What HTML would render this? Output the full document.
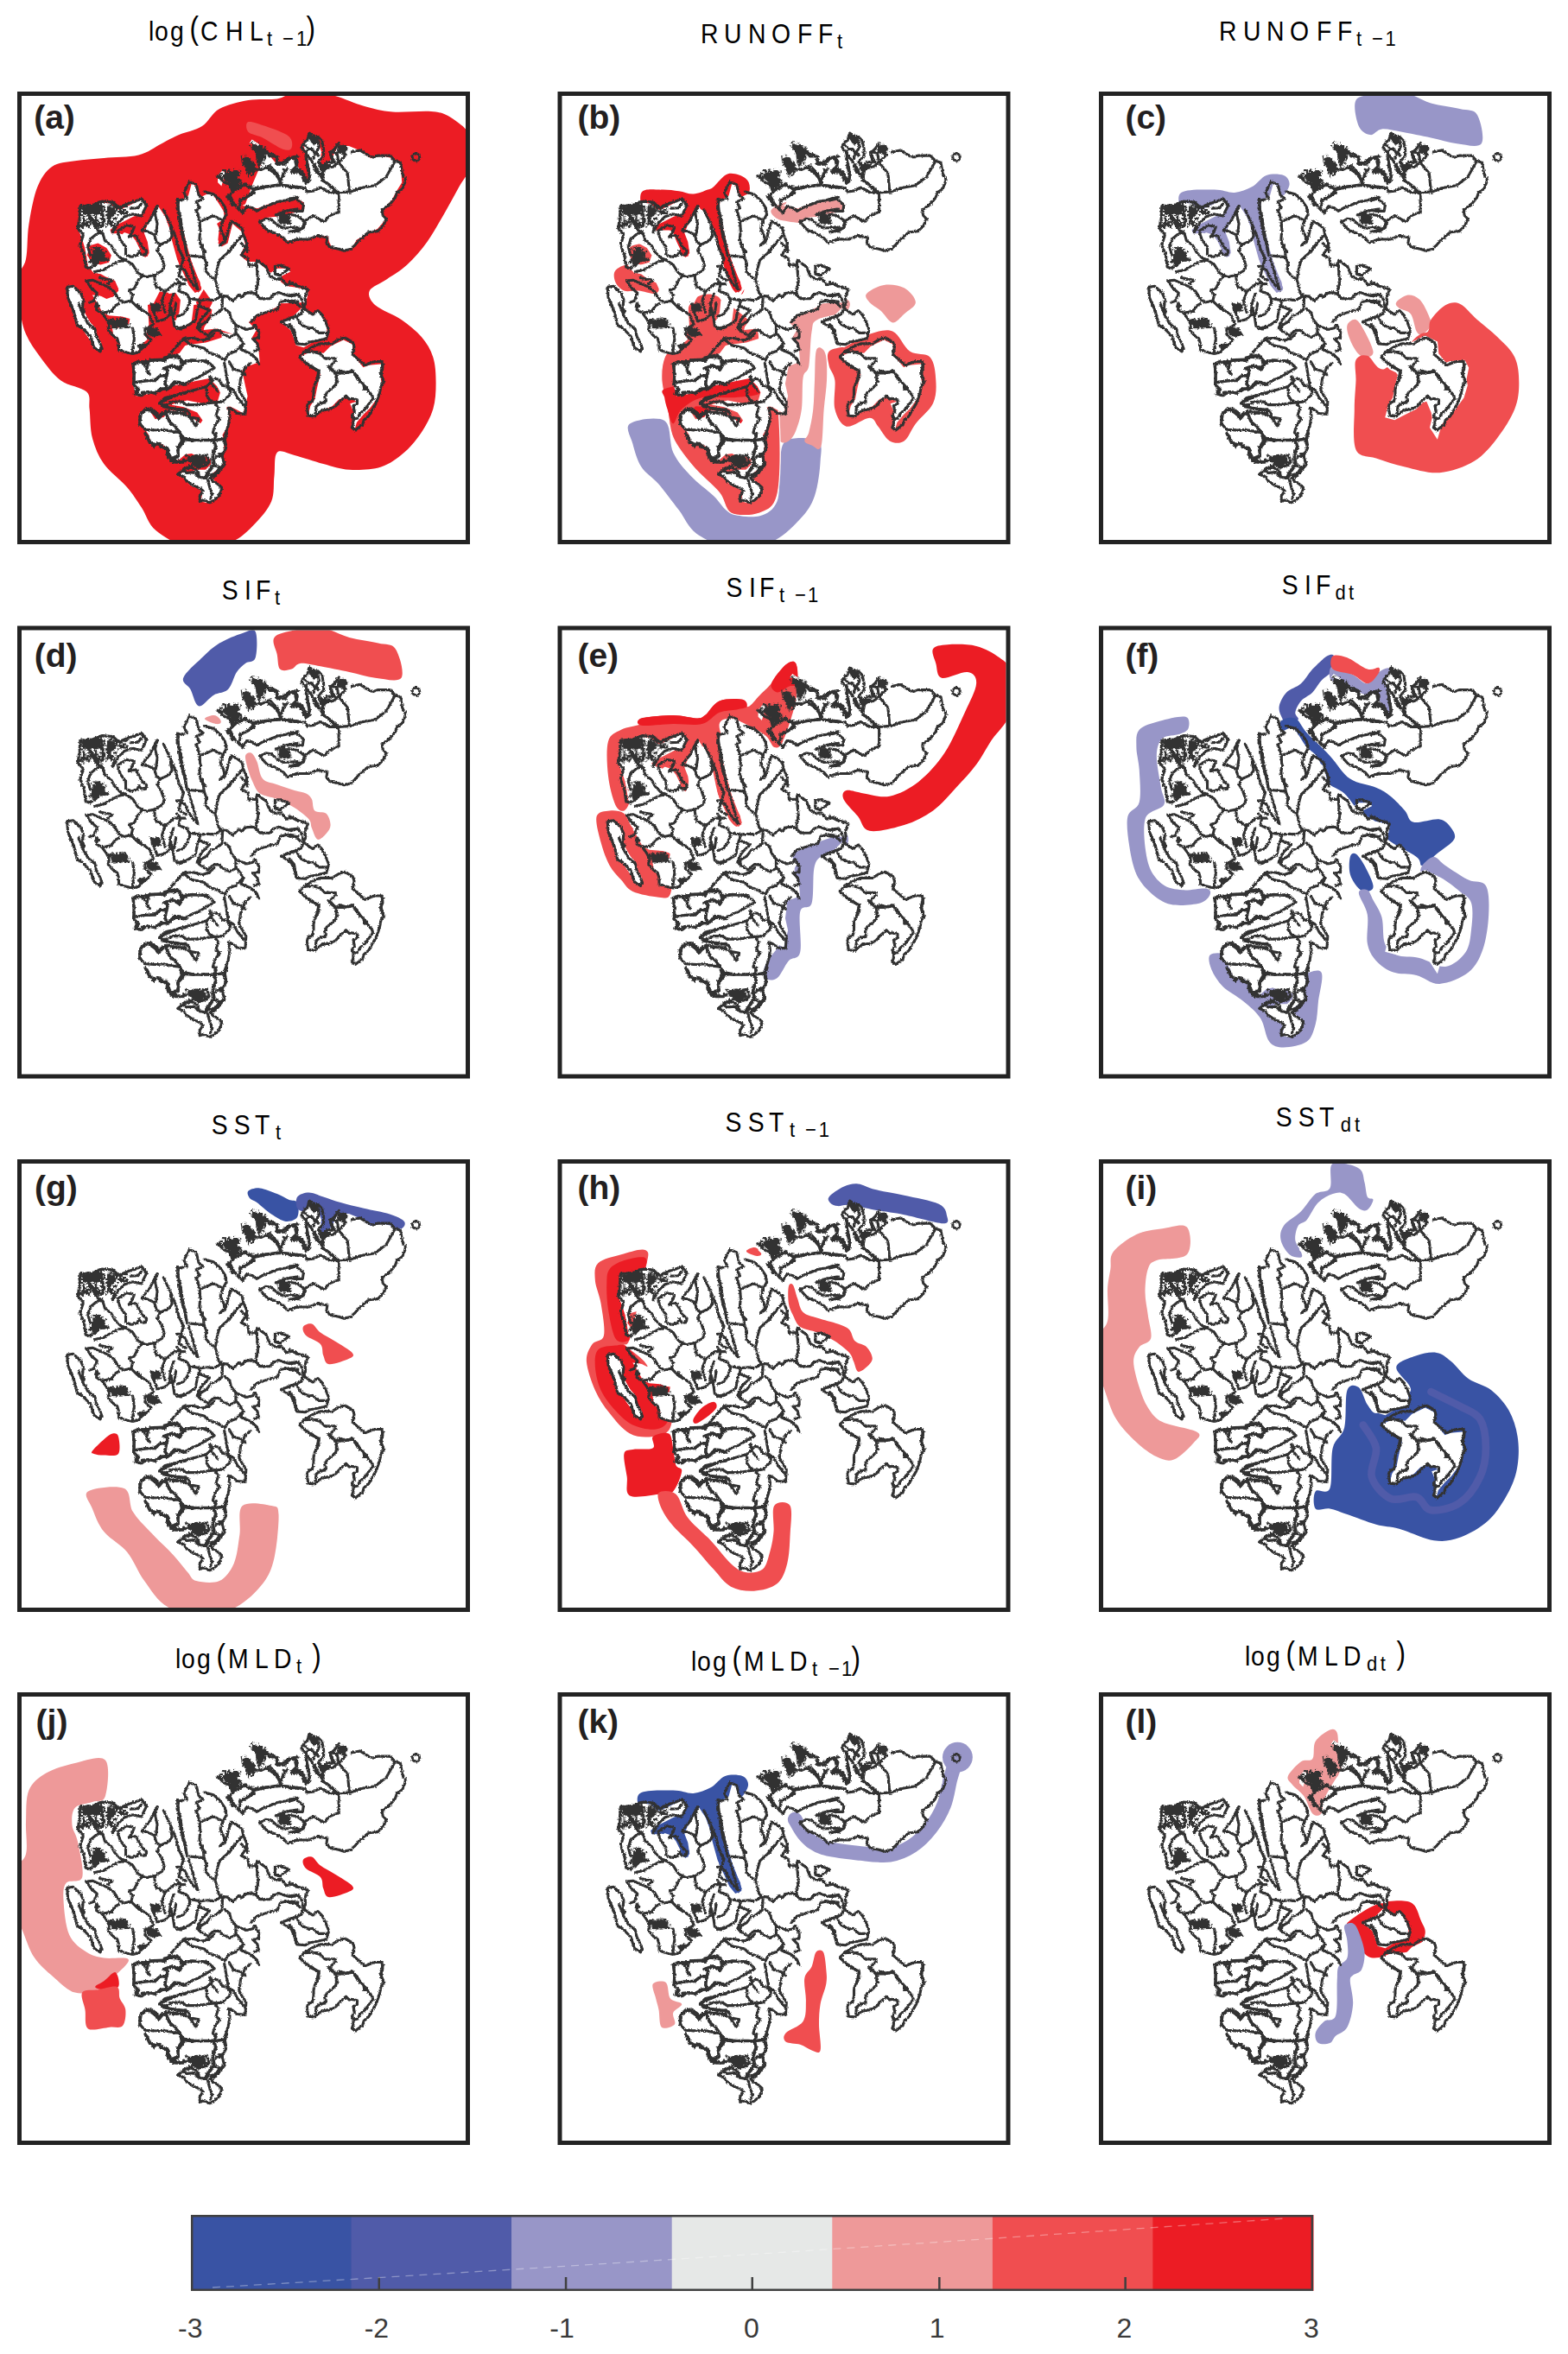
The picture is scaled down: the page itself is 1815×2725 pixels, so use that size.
<!DOCTYPE html>
<html><head><meta charset="utf-8"><style>
html,body{margin:0;padding:0;background:#fff;}
svg{display:block;}
text{font-family:"Liberation Sans",sans-serif;}
</style></head><body>
<svg width="1815" height="2725" viewBox="0 0 1815 2725">
<defs>
<filter id="jag" x="-5%" y="-5%" width="110%" height="110%">
<feTurbulence type="fractalNoise" baseFrequency="0.6" numOctaves="1" seed="3" result="n"/>
<feDisplacementMap in="SourceGraphic" in2="n" scale="3.6" xChannelSelector="R" yChannelSelector="G"/>
</filter>
<mask id="fjm" maskUnits="userSpaceOnUse" x="0" y="0" width="524" height="524"><rect width="524" height="524" fill="#fff"/><g fill="#000"><path d="M107.5 159.9 117.3 152.9 128.6 152.9 137 158.5 142.6 167 148.2 175.4 152.4 183.8 151 190.8 145.4 190.8 141.2 181 137 172.6 131.4 165.6 123 162.8 114.5 164.2 108.9 164.2Z"/><path d="M173.5 131.9 181.9 136.1 187.5 152.9 191.7 171.2 195.9 189.4 204.3 206.2 211.4 220.3 212.8 230.1 205.7 232.9 198.7 224.5 193.1 211.9 187.5 200.6 183.3 185.2 179.1 167 173.5 147.3 169.3 136.1Z"/><path d="M231 152.9 239.4 147.3 249.2 152.9 246.4 164.2 243.6 175.4 236.6 179.6 232.4 175.4 236.6 164.2Z"/><path d="M83.7 178.2 93.5 175.4 103.3 181 108.9 189.4 106.1 197.8 96.3 200.6 86.5 197.8 80.9 189.4Z"/><path d="M80.9 220.3 92.1 217.5 103.3 214.7 113.1 218.9 117.3 228.7 111.7 237.1 103.3 239.9 92.1 234.3 83.7 228.7Z"/><path d="M173.5 234.3 183.3 232.9 188.9 241.3 187.5 255.4 183.3 265.2 176.3 262.4 172.1 251.1Z"/><path d="M151 246.9 162.2 244.1 170.7 251.1 173.5 269.4 170.7 290.4 156.6 293.2 148.2 283.4 152.4 269.4Z"/><path d="M204.3 246.9 215.6 245.5 225.4 252.6 224 262.4 215.6 273.6 205.7 276.4 201.5 268Z"/><path d="M190.3 282 211.4 279.2 236.6 276.4 236.6 284.8 218.4 290.4 197.3 293.2 187.5 296Z"/><path d="M239 100.3 249 71.9 264 58.5 277.4 61.8 282.4 83.6 272.4 107 264 130.3 254 135.4 245.7 123.7 235.6 112Z"/></g></mask>
<g id="landfill" fill="#fff" stroke="none" mask="url(#fjm)"><path d="M88.3 209.8 81.9 202.2 80 190.7 78.1 180.5 74.9 170.3 70.4 158.8 72.3 148.6 71.7 135.8 74.2 133.3 83.2 132 90.8 129.5 98.5 128.8 107.4 129.5 113.8 135.8 118.9 137.1 129.1 132 139.3 126.9 145.7 125.6 149.5 132 145.7 140.9 134.2 144.8 124 149.9 113.8 155 109.9 161.3 121.4 165.2 130.4 157.5 138 162.6 141.8 172.8 143.1 188.1 148.2 192 152.7 186.9 150.8 174.1 146.9 163.9 150.8 153.7 159.7 135.8 163.5 133.3 171.2 144.8 176.3 158.8 178.8 171.6 185.2 194.5 192.9 209.8 203.1 225.1 209.4 232.8 213.3 227.7 208.2 213.6 201.8 197.1 196.7 179.2 191.6 158.8 187.1 138.4 187.8 126.9 198 120.5 201.8 106.5 208.2 110.3 210.7 123.1 218.4 119.3 224.7 116.7 232.4 128.2 238.8 138.4 240.1 148.6 233.7 158.8 232.4 171.6 234.9 179.2 242.6 174.1 245.2 158.8 250 152.4 250 153.7 260.2 162.6 264 177.9 257.7 189.4 266.6 197.1 278.1 197.1 285.7 203.4 293.4 209.8 301 204.7 312.5 204.7 316.3 208.5 306.1 213.6 304.8 220 311.2 225.1 321.4 226.4 332.9 228.9 336.7 232.8 334.2 244 334.3 244 304.8 245.3 301 249.1 288.3 255.5 278.1 259.3 267.9 267 276.8 275.9 271.7 284.8 279.3 297.6 280.6 312.9 266.6 318 260.2 323.1 264 340.9 266.6 352.4 261.6 372.6 255.4 369 246.4 364.5 242 365.4 243.8 369 245.5 377.9 242.9 388.6 237.5 397.6 239.3 404.7 239.3 415.4 235.7 422.6 238.4 427.9 237.5 433.3 230.4 438.6 223.2 444 228.6 451.1 233.9 454.7 235.7 460.1 232.1 469 225.9 473.5 219.6 476.1 212.5 474.4 214.3 464.5 210.7 460.1 200 455.6 192.9 447.6 187.5 441.3 200 440.4 207.1 437.8 217.9 437.8 224.1 431.5 224.1 426.1 217.9 422.6 208.9 422.6 201.8 419 194.6 419.9 187.5 426.1 182.1 427 176.8 420.8 173.2 411.9 164.3 406.5 155.4 408.3 152 397.1 143.1 384.3 141.8 371.6 152 367.7 159.7 379.2 169.9 376.7 175 369 190.3 370.3 203.1 377.9 212 384.3 214.5 380.5 208.2 371.6 192.9 365.2 177.6 362.6 196.7 357.5 215.8 361.3 231.1 361.3 234.9 348.6 231.1 340.9 222.2 332 203.1 335.8 190.3 338.4 177.6 340.9 164.8 346 152 349.9 138 352.4 134.2 339.7 134.2 316.7 139.3 312.9 158.4 311.6 172.4 309.1 187.8 302.7 195.4 292.5 200.5 287.4 209.4 287.4 222.2 283.5 237.5 278.4 250 281 231.1 274.6 215.8 275.9 219.6 256.8 226 244 215.8 228.9 206.9 244 212 256.8 203.1 265.7 192.9 273.3 185.2 275.9 177.6 260.6 177.6 244 175 232.8 164.8 231.5 158.4 244 155.9 251.7 153.3 260.6 155.9 272.1 164.8 278.4 162.2 283.5 152 286.1 146.9 289.9 141.8 297.6 138 302.7 126.5 301.4 117.6 300.1 118.9 292.5 111.2 282.3 109.9 273.3 117.6 273.3 129.1 269.5 130.4 263.1 121.4 260.6 106.1 259.3 98.5 255.5 92.1 244 86.9 235.6 110.1 238 117.3 230.6 113.4 220.7 96.8 211.2Z"/><path d="M232.1 97.6 237.2 91.2 242.3 95 250 92.5 257.7 82.3 260.2 73.3 267.9 77.2 266.6 63.1 271.7 55.5 279.3 60.6 284.4 68.2 293.4 75.9 301 84.8 309.9 82.3 318.9 77.2 322.7 82.3 329.1 95 334.2 106.5 339.3 100.1 338 86.1 331.6 63.1 338 50.4 346.9 56.8 352 69.5 350.8 82.3 353.3 93.7 358.4 84.8 364.8 75.9 371.2 63.1 383.9 63.1 396.7 68.2 409.4 77.2 422.2 74.6 434.9 77.2 443.9 84.8 445.2 105.2 438.8 115.4 433.7 125.6 420.9 138.4 426 148.6 417.1 158.8 406.9 163.9 392.9 171.6 387.8 180.5 377.6 184.3 364.8 181.8 361 174.1 359.7 167.7 346.9 166.4 338 170.3 326.5 171.6 311.2 172.8 307.4 167.7 295.9 163.9 284.4 156.2 280.6 151.1 288.3 146 299.7 144.8 311.2 142.2 326.5 139 332.3 135.8 331.6 128.2 324 123.7 306.1 126.9 289.5 130.7 278.1 135.2 269.1 133.3 260.2 132 252.6 133.3 244.9 115.4 237.2 110.3 232.1 105.2Z"/><path d="M58.4 224.9 64 224.2 71 232 76 241.8 74.6 248.8 80.2 260 84.4 267 90.7 274.1 92.1 282.5 97.7 292.3 98.4 297.9 95.6 301.4 87.9 296.5 85.8 289.5 79.5 281.1 75.3 274.1 68.9 269.8 66.8 261.4 62.6 250.2 57.7 234.8Z"/><path d="M306.1 267.6 318.9 260.6 329.1 250.4 336.7 255.5 341.8 259.3 348.2 252.9 353.3 260.6 358.4 273.3 358.4 284.8 341.8 289.9 331.6 296.3 322.7 293.7 318.9 282.3 316.3 275.9Z"/><path d="M327.8 306.5 339.3 301.4 354.6 302.7 362.2 295 377.6 287.4 387.8 292.5 389 305.2 400.5 319.3 406.9 316.7 420.9 315.4 423.5 320.5 420.9 333.3 422.2 339.7 418.4 352.4 408.2 366.4 400.5 374.1 392.9 383 390.3 392 387.8 388.1 390.3 377.9 389 370.3 385.2 361.3 392.9 358.8 387.8 356.2 380.1 353.7 372.4 356.2 364.8 363.9 352 370.3 341.8 375.4 336.7 374.1 339.3 363.9 344.4 356.2 346.9 343.5 350.8 326.9 346.9 321.8 339.3 318Z"/></g>
<g id="landline" fill="none" stroke="#333" stroke-width="3.1" stroke-linejoin="round" stroke-linecap="round"><path d="M111.2 161.9 116.6 152.1 123.8 145 133.6 141.8 143.4 144.1 149.6 132 144.3 124.4 128.2 129.8 117.5 134.2 110.4 128 97.9 127.1 86.2 131.6 72.9 132.5 72 144.1 70.2 158.4 76.4 165.5 72.9 178 77.3 188.7 79.1 203 83.6 204.8 89.8 201.2 94.3 195.9 105 194.1"/><path d="M130.9 135.1 139.8 134.7 144.3 128.9"/><path d="M71.1 155.7 79.1 153 86.2 149.4 92.5 160.1 97 162.8"/><path d="M75.5 135.1 81.8 142.3 88.9 149.4 94.3 157.5"/><path d="M97 131.6 99.6 145 98.8 155.7"/><path d="M108.6 130.7 105 142.3 108.6 153"/><path d="M112.1 157.5 110.4 162.8"/><path d="M84.5 170.9 92.5 164.2 98.8 163.7 101.4 172.6 108.6 178 113 186 119.3 192.3 125.5 195"/><path d="M84.5 170.9 81.8 179.8 84.5 189.6"/><path d="M89.8 208.4 99.6 206.6 108.6 201.2 117.5 196.8 125.5 195"/><path d="M125.5 195 133.6 200.3 139.8 210.1 148.8 214.6 157.7 212.8 167.5 207.5 170.2 201.2 166.6 191.4 162.1 183.4 165.7 177.1"/><path d="M165.7 177.1 175.5 172.6 179.1 167.3 177.3 157.5"/><path d="M116.6 161 126.4 154.8 135.4 156.6 133.6 161.9 129.1 168.2 137.1 166.4 140.7 172.6 144.3 179.8 149.6 184.2 148.8 188.7 144.3 189.6 140.7 185.1 138.9 189.6 131.8 191.4 125.5 188.7 125.5 179.8 119.3 171.8 116.6 163.7"/><path d="M162.1 132.5 157.7 140.5 153.2 149.4 147.9 155.7 144.3 161 150.5 161.9 158.6 165.5 161.2 174.4 165.7 177.1"/><path d="M162.1 132.5 159.5 142.3 162.1 153 160.4 165.5"/><path d="M169.3 136.9 178.2 155.7 183.6 169.1 187.1 182.5 192.5 193.2 188.9 204.8 187.1 213.7 195 218.2"/><path d="M185.4 124.4 187.1 142.3 188.9 155.7 191.6 169.1 195 178"/><path d="M57.7 226.2 64.8 225.3 72.9 232.5 76.4 240.5 75.5 249.4 77.3 255.5"/><path d="M57.7 226.2 58.6 238.7 63 249.4 65.7 255.5"/><path d="M80 219.1 87.1 218.2 97 222.6 105 226.2 112.1 231.6 117.5 240.5 122.9 244.1 131.8 242.3 140.7 251.2 148.8 255.5"/><path d="M80 219.1 85.4 227.1 92.5 233.4 88.9 242.3 83.6 244.1"/><path d="M95.2 215.5 110.4 218.2 105 222.6"/><path d="M130 229.8 135.4 228 140.7 217.3 144.3 213.7"/><path d="M131.8 242.3 133.6 235.1 130 230.7"/><path d="M158.6 213.7 160.4 225.3 171.1 231.6 167.5 242.3 171.1 255.5"/><path d="M171.1 231.6 181.8 222.6 194.3 222.6"/><path d="M180.9 234.2 177.3 245 176.4 255.5"/><path d="M199.3 104.4 193 116.9 196.6 124.1 186.8 125.9 185 134.8 188.6 143.7 190.4 157.1 193 170.5 195.7 185.5"/><path d="M199.3 104.4 207.3 108 210 119.6 215.4 124.1 207.3 127.6 210.9 134.8 207.3 137.5 210.9 148.2 211.8 160.7 210.9 170.5 212.7 179.4 218 185.5"/><path d="M211.8 150 218.9 147.3 227 143.7 235.9 148.2"/><path d="M217.1 116 227 118.7 235 125.9 240.4 133.9 242.1 141.9 237.7 150 235 158.9 238.6 166 240.4 174.1 235 177.6"/><path d="M235 177.6 242.1 170.5 243.9 161.6 247.5 150 252.9 152.6 260 158 261.8 166 265.4 175 266.2 185.5"/><path d="M260.9 166 252.9 175 247.5 181.2 245.7 185.5"/><path d="M285.9 67.8 292.1 75 301.1 75 300.2 83 308.2 81.2 314.5 76.8 318.9 75.9 325 75"/><path d="M274.3 90.1 283.2 90.1 292.1 85.7 301.1 95.5 304.6 107.1"/><path d="M245.7 119.6 252.9 113.4 262.7 108 274.3 113.4 283.2 111.6 301.1 108 318.9 109.8 325 111.6"/><path d="M245.7 119.6 251.1 130.3 256.4 136.6 260.9 140.1"/><path d="M260.9 140.1 265.4 133 272.5 134.8 277 138.4 283.2 134.8 292.1 131.2 301.1 127.6 310 125.9 318.9 123.2 325 122.3"/><path d="M257.3 125.9 265.4 122.3 274.3 116.9"/><path d="M304.6 107.1 305.5 100.9 310 92.8 308.2 90.1"/><path d="M280.5 150.9 287.7 147.3 293.9 148.2 301.1 154.4 308.2 158 325 157.1"/><path d="M280.5 150.9 289.5 160.7 299.3 164.2 308.2 169.6 312.7 175 325 170.5"/><path d="M299.3 142.8 310 138.4 325 135.7"/><path d="M386.4 70 396.6 67.9 406.8 74.1 411.9 76.1 417 74.1 431.3 74.1 437.4 80.2 443.6 82.2 445.6 94.5 449.7 102.6 445.6 112.8 439.5 116.9 437.4 123.1 432.3 129.2 422.1 137.3 423.2 143.5 427.2 147.5 423.2 155.7 417 161.8 406.8 162.8 396.6 171 390.5 178.2 386.4 182.2 378.3 184.3 372.1 182.2 361.9 180.2 357.9 175.1 358.9 169 347.7 166.9 337.4 171 325.2 171 315 174.1"/><path d="M437.4 80.2 427.2 98.6 414 108.8 396.6 111.8 386.4 115.9 372.1 116.9 361.9 116.9 350.7 110.8 343.6 114.9 335.4 115.9 333.4 111.8 325.2 110.8 315 110.8"/><path d="M372.1 116.9 372.1 139.4 361.9 143.5 354.8 150.6 342.6 143.5 334.4 148.6 331.3 157.7 315 162.8"/><path d="M384.4 115.9 382.3 94.5 372.1 82.2 380.3 73.1 372.1 65.9"/><path d="M363 70 370.1 71 372.1 82.2 365 87.3 355.8 88.4 352.8 102.6 357.9 105.7 368.1 115.9"/><path d="M334.4 69 335.4 86.3 338.5 98.6 334.4 105.7"/><path d="M315 76.1 321.1 78.2 323.2 86.3 317 92.4 327.2 90.4 332.3 96.5 335.4 104.7"/><path d="M315 126.1 323.2 124.1 331.3 131.2 330.3 138.4 321.1 138.4 315 137.3"/><path d="M315 142.4 323.2 143.5 332.3 149.6 331.3 156.7 325.2 161.8 315 162.8"/><path d="M361.9 70 364 79.2 368.1 82.2"/><path d="M62.1 245.5 66.6 258.9 69.3 270.5 74.6 273.2 84.5 283 88.9 296.4 96.1 300.9 97.9 297.3"/><path d="M71.1 245.5 76.4 258.9 81.8 268.7 89.8 275 91.6 283 96.1 291.9 97.9 297.3"/><path d="M92.5 245.5 91.6 252.6 97.9 256.2 108.6 254.4 113 248.2 117.5 245.5"/><path d="M97.9 256.2 103.2 263.4 106.8 270.5 105 275.9 110.4 282.1 115.7 285.7 117.5 291.9 117.5 299.1 122.9 300.9 133.6 303.5 140.7 301.8 144.3 297.3 151.4 291.9 155 287.5 147.9 281.2 147.9 275 153.2 272.3 157.7 269.6 155 263.4 153.2 258.9 144.3 252.6 139.8 247.3"/><path d="M133.6 274.1 135.4 285.7 133.6 299.1 133.6 302.6"/><path d="M155 245.5 157.7 254.4 162.1 266 171.1 263.4 175.5 258.9 181.8 257.1 183.6 245.5"/><path d="M176.4 245.5 180 258.9 181.8 271.4 188.9 275 195 272.3"/><path d="M133.6 315.1 139.8 312.5 144.3 313.4 151.4 311.6 166.6 310.7 170.2 312.5 176.4 304.4 183.6 295.5 192.5 286.6 195 284.8"/><path d="M170.2 308 174.6 307.1 181.8 305.3 188.9 309.8 189.8 315.1 195 313.4"/><path d="M133.6 315.1 135.4 325.9 134.5 339.2 138.9 343.7 136.2 350 144.3 351.8 148.8 348.2 155 348.2 158.6 349.1 166.6 343.7 173.8 344.6 178.2 340.1 181.8 335.7 188.9 336.6 195 339.2"/><path d="M144.3 314.2 149.6 319.6 153.2 327.6"/><path d="M138 336.6 148.8 334.8 159.5 334.8 165.7 328.5 172.9 328.5 173.8 322.3 169.3 320.5 179.1 316.9 186.2 319.6 190.7 316.9"/><path d="M172.9 328.5 171.1 339.2 173.8 344.6"/><path d="M164.8 360.7 171.1 354.4 180 352.6 188.9 350 195 349.1"/><path d="M164.8 360.7 172.9 365.1 185.4 368.7 195 367.8"/><path d="M141.6 375 147.9 367.8 155 366.9 162.1 372.3 162.1 377.6 167.5 372.3 173.8 369.6 180 372.3 195 372.3"/><path d="M141.6 375 142.5 385.5"/><path d="M171.1 370.5 178.2 385.5"/><path d="M193.9 175.5 196.6 189.8 216.2 191.6 215.4 184.4 212.7 175.5"/><path d="M216.2 191.6 218.9 198.7 218 207.6 224.3 214.8 228.8 216.6 231.4 225.5 233.2 233.5 236.8 236.2"/><path d="M198.4 193.4 202.9 207.6 205.5 217.5 209.1 229.1 202.9 222.8 198.4 215.7 193.9 206.8 188.6 202.3 185 202.3"/><path d="M185 217.5 188.6 222.8 186.8 230.9 196.6 234.4 199.3 239.8 211.8 241.6 220.7 240.7 227 241.6 231.4 239.8 236.8 236.2"/><path d="M236.8 236.2 243 237.1 249.3 242.5 256.4 235.3 260 238 263.6 233.5 271.6 232.6 276.1 234.4"/><path d="M229.6 215.7 231.4 205 234.1 195.1 243 187.1 247.5 181.8 252.9 175.5"/><path d="M259.1 175.5 265.4 180.9 259.1 188.9 267.1 193.4 268 201.4 276.1 200.5 277.9 195.1 283.2 199.6 287.7 202.3"/><path d="M277 197.8 277.9 211.2 278.8 220.1 277 229.1 276.1 234.4"/><path d="M276.1 234.4 281.4 239.8 292.1 239.8 297.5 234.4 302.9 232.6 310 235.3 317.1 237.1 325 234.4"/><path d="M298.4 201.4 304.6 201.4 314.5 205 303.8 213 298.4 211.2 298.4 201.4"/><path d="M287.7 202.3 292.1 213 297.5 216.6 305.5 216.6 311.8 223.7 318.9 221.9 325 225.5"/><path d="M237.7 238 236.8 252.3 229.6 257.6 224.3 259.4 218.9 266.6 212.7 270.1 210 275.5 216.2 280 220.7 282.6 227 276.4 233.2 276.4 238.6 280.9 245.7 284.4 252.9 280.9 252.9 270.1 247.5 263 245.7 255.9 240.4 251.4"/><path d="M200.2 241.6 196.6 251.4 192.1 257.6 185 260.3"/><path d="M211.8 243.4 208.2 254.1 206.4 264.8 198.4 270.1 185 274.6"/><path d="M211.8 248.7 222.5 253.2 215.4 260.3 211.8 264.8 208.2 273.7"/><path d="M252.9 270.1 256.4 271.9 265.4 275.5 272.5 273.7 275.2 270.1"/><path d="M275.2 270.1 279.6 278.2 279.6 285.3 272.5 286.2 277.9 291.6 279.6 298.7 274.3 300.5"/><path d="M270.7 266.6 277 259.4 292.1 254.1 301.1 252.3 304.6 243.4 313.6 241.6 325 243.4"/><path d="M305.5 266.6 314.5 263 325 259.4"/><path d="M305.5 266.6 317.1 273.7 320.7 282.6 323.4 291.6"/><path d="M254.6 280.9 261.8 291.6 252.9 300.5 243.9 304.1 240.4 311.2"/><path d="M261.8 291.6 259.1 298.7 269.8 303.2 277 309.4 279.6 315.5"/><path d="M192.1 286.2 202.9 285.3 214.5 288 222.5 285.3 227.9 280"/><path d="M192.1 286.2 201.1 293.4 216.2 296.9 220.7 301.4 229.6 305 240.4 310.3"/><path d="M185 305 192.1 313 202.9 311.2 220.7 312.1"/><path d="M315 220.5 323.9 225 332.9 227.6 336.4 229.4 332.9 238.4 333.8 245.5 331.1 250 329.3 257.1 320.4 260.7 315 263.4"/><path d="M315 235.7 323.9 234.8 328.4 238.4 331.1 249.1"/><path d="M315 243.7 322.1 243.7 327.5 249.1"/><path d="M315 269.6 320.4 275.9 322.1 284.8 323.9 291.9 332.9 292.8 338.2 290.1 346.2 288.4 357.9 285.7 360.5 275.9 357 266.9 352.5 258 348 253.5 341.8 258 336.4 254.4 331.1 250"/><path d="M323.9 262.5 328.4 269.6 337.3 274.1 341.8 273.2 348.9 279.4 357.9 279.4"/><path d="M326.6 307.1 332.9 300.9 341.8 295.5 350.7 291.9 364.1 291.9 373 286.6 379.3 284.8 388.2 290.1 390 295.5 388.2 304.4 395.4 310.7 402.5 316.9 413.2 312.5 422.1 312.5 423 320.5 420.4 326.8 423.9 335.5"/><path d="M332.9 301.8 341.8 300.9 350.7 303.5 356.1 308.9 368.6 308.9"/><path d="M368.6 311.6 361.4 318.7 368.6 325.9 370.4 335.5"/><path d="M370.4 325.9 377.5 325.9 388.2 324.1 393.6 329.4 397.1 335.5"/><path d="M326.6 307.1 332.9 313.4 341.8 318.7 348.9 324.1 346.2 335.5"/><path d="M134.5 316.2 143.4 312.6 151.4 314.4 153.2 310.9 168.4 310 172 310.9 174.6 307.3 187.1 308.2 190.7 313.5 201.4 310.9 214.8 311.8 223.8 315.3 228.2 319.8 219.3 325.1 210.4 330.5 201.4 334.1 192.5 339.4 183.6 336.8 178.2 341.2 176.4 343"/><path d="M134.5 316.2 135.4 336.8 134.5 339.4 140.7 344.8 137.1 350.1 143.4 351.9"/><path d="M135.4 336.8 147.9 335 158.6 334.1 165.7 328.7 172.9 329.6"/><path d="M144.3 348.4 152.3 347.5 159.5 349.2 167.5 344.8 172.9 343 171.1 336.8 172.9 329.6 174.6 323.4 172 319.8 180.9 318 188 322.5 192.5 314.4"/><path d="M151.4 314.4 149.6 323.4 153.2 326.9"/><path d="M165.7 360.9 170.2 357.3 179.1 353.7 188 350.1 201.4 346.6 210.4 343.9 219.3 341.2 223.8 336.8 228.2 332.3 233.6 333.2 237.1 340.3 242.5 341.2 247 346.6 245.2 351.9 237.1 359.1 228.2 360 222.9 357.3 219.3 351.9 219.3 343.9"/><path d="M222.9 329.6 224.6 337.6 231.8 346.6"/><path d="M165.7 360.9 170.2 363.5 180 359.1 190.7 359.1 196.1 362.6 210.4 362.6 219.3 360.9 228.2 360"/><path d="M228.2 360 232.7 366.2 230 375.1 234.5 378.7 229.1 385.9 226.4 394.8 230 398.4 228.2 403.7"/><path d="M143.4 372.5 151.4 368 159.5 373.4 163.9 378.7 167.5 374.2 172.9 370.7 183.6 371.6 192.5 373.4 199.6 376.9 210.4 378.7 206.8 387.6 199.6 376.9"/><path d="M172 371.6 175.5 381.4 183.6 388.5 188 394.8 192.5 401 201.4 402.8 210.4 403.7 228.2 403.7"/><path d="M143.4 372.5 141.6 384.1 147.9 391.2 161.2 392.1 169.3 391.2 181.8 393.9 188 394.8"/><path d="M167.5 364.4 176.4 366.2 185.4 367.1 197.9 369.8 199.6 373.4"/><path d="M147.9 395.7 153.2 406.4 159.5 408.2 163.9 407.3 170.2 412.6 174.6 416.2 176.4 421.6 180 425.1 187.1 422.5 186.2 418 185.4 412.6 190.7 403.7 192.5 401"/><path d="M180 425.1 188 428.7 194.3 427.8 201.4 423.4 208.6 428.7 214.8 421.6 219.3 420.7 222 428.7 219.3 432.3 210.4 435 205.9 432.3"/><path d="M186.2 443 192.5 437.6 201.4 435 208.6 438.5 210.4 445.5"/><path d="M228.2 403.7 230 412.6 226.4 421.6 228.2 430.5 223.8 435 219.3 445.5"/><path d="M228.2 403.7 238.9 401.9 241.6 394.8 244.3 385.9 246.1 375.1 244.3 366.2 248.8 368 255 372.5 263.9 373.4 264.8 359.1 256.8 345.7 258.6 332.3 263.9 318.9 270 314.4"/><path d="M238.9 401.9 241.6 412.6 237.1 421.6 230.9 421.6"/><path d="M237.1 421.6 239.8 432.3 233.6 439.4 228.2 445.5"/><path d="M239.8 314.4 244.3 341.2 250.5 345.7 255 354.6 263 363.5"/><path d="M245.2 312.6 250.5 321.6 258.6 323.4 263.9 327.8"/><path d="M150 397.8 154.6 407 157.7 410.8 162.2 407 166.8 412.3 173 411.6 175.2 415.4 173 418.5 176.8 426.1 182.1 429.2 192.1 429.2 192.8 426.1"/><path d="M188.3 395.5 189.8 402.4 192.8 405.4 188.3 410.8 186 416.2 186.7 421.5 182.1 423 179.1 424.6"/><path d="M189.8 402.4 195.9 403.2 203.6 403.9 211.2 403.2 220.4 403.2 227.3 403.9 229.6 400.1 230.3 395.5"/><path d="M227.3 403.9 229.6 410.8 226.5 418.5 225.7 426.1 226.5 433.8 223.5 438.3 218.9 442.2 218.1 447.5"/><path d="M230.3 403.2 240.3 402.4 241.8 410.8 238.8 418.5 231.1 421.5 229.6 423.8"/><path d="M240.3 402.4 242.6 395.5"/><path d="M192.1 436.8 199 433.8 205.1 431.5"/><path d="M186 442.9 191.3 438.3 195.9 441.4 205.1 440.6 209.7 446 218.1 447.5 220.4 444.5 226.5 442.9 232.6 441.4 238 432.2 240.3 430.7"/><path d="M186 442.9 192.8 446 195.9 450.6 203.6 455.9 211.2 459 215 462.1 211.2 468.2 211.2 474.3 215.8 472.8"/><path d="M215.8 472.8 222.7 475.8 228 472.8 232.6 469 235.7 462.8 236.5 458.2 231.1 453.6 226.5 451.4 223.5 447.5"/><path d="M226.5 432.2 234.2 435.3 230.3 441.4 223.5 447.5"/><path d="M220.4 449.1 222.7 458.2 225.7 465.9 223.5 471.2"/><path d="M335.3 315.5 340.7 319.3 349.1 323.2 349.1 330.8 344.5 338.5 343 344.6 343 351.5 341.4 359.1 336.8 359.9 335.3 365.2 336.8 375.2 344.5 375.9 352.1 369.1 362.8 367.5 369 363.7 373.6 358.3 380.4 352.2 384.3 356.1 387.3 355.3 393.5 356.8 393.5 361.4 388.9 363.7 390.4 370.6 387.3 375.2 388.9 378.2 388.9 384.4 387.3 389 391.2 392 395 389 399.6 385.9 401.1 380.5 406.5 375.9 409.5 370.6 414.9 361.4 417.9 353.8 419.5 348.4 421 340.7 424.8 335.4 421.8 330 421 323.2 423.3 315.5"/><path d="M388.1 323.2 392.7 330.8 400.3 338.5 404.2 343 410.3 351.5 411.8 355.3 407.2 361.4 402.6 367.5 396.5 372.9 393.5 378.2 389.6 379"/><path d="M359.8 318.6 362.8 321.6 369.7 327 369 338.5 363.6 344.6 358.3 348.4 356 353.8 356.7 359.9 350.6 360.6 346 364.5 345.2 372.9"/><path d="M369.7 325.4 373.6 323.2 381.2 325.4 387.3 323.2"/><path d="M292.5 71.4 300.8 75.3 300.2 79.7 300.2 84.2 309.7 84.2 314.8 77.8 320.6 75.9 324.4 81 322.5 89.9 318 93.8 330 92.5"/><path d="M305.9 102.1 307.8 95 312.9 89.3"/><path d="M263.2 106.5 268.3 110.3 275.9 111.6 287.4 109.7 306.5 108.4 330 111"/><path d="M275.9 111.6 268.3 120.6 258.7 125.7 256.8 135.2"/><path d="M287.4 87.4 297 93.8 303.3 101.4 305.9 107.8"/><path d="M231.3 97.6 240.2 105.2 246.6 107.8 249.1 116.7 242.8 121.8 246.6 125.7 249.1 132"/><path d="M329.1 64.6 332.3 58.3 335.5 57 338.1 48.1 343.2 51.9 348.3 52.5 352.7 57 354.6 66.5 354.6 74.2 350.8 78.7 348.3 82.5 354.6 86.3 358.5 81.2 364.2 82.5 366.1 79.9 362.3 71 367.4 66.5 372.5 59.5"/><path d="M334.2 77.4 336.8 87 338.1 96.5 337.4 102.9 334.2 106.1 331 101 329.1 96.5 324.7 90.1 317.7 92.7"/><path d="M329.1 64.6 334.2 71 338.7 77.4 344.4 85 349.5 95.2 354.6 102.9 364.8 110.6 370.6 115.7"/><path d="M343.2 86.3 345.7 93.3 351.5 96.5 354.6 91.4 350.8 86.3"/><path d="M338.7 53.2 343.2 60.2 348.3 58.3 349.5 64.6 345.7 69.7 348.3 74.2"/><path d="M333 62.1 336.8 66.5 341.9 66.5 344.4 72.3 343.2 77.4"/><circle cx="461.5" cy="76" r="4.2"/></g>
<pattern id="speck" patternUnits="userSpaceOnUse" width="14" height="14"><g fill="#333"><rect x="0" y="0" width="2.2" height="2.2"/><rect x="0" y="6" width="2.2" height="2.2"/><rect x="0" y="12" width="2.2" height="2.2"/><rect x="2" y="6" width="2.2" height="2.2"/><rect x="2" y="8" width="2.2" height="2.2"/><rect x="2" y="10" width="2.2" height="2.2"/><rect x="4" y="2" width="2.2" height="2.2"/><rect x="4" y="12" width="2.2" height="2.2"/><rect x="6" y="0" width="2.2" height="2.2"/><rect x="6" y="4" width="2.2" height="2.2"/><rect x="6" y="6" width="2.2" height="2.2"/><rect x="6" y="8" width="2.2" height="2.2"/><rect x="6" y="10" width="2.2" height="2.2"/><rect x="6" y="12" width="2.2" height="2.2"/><rect x="8" y="0" width="2.2" height="2.2"/><rect x="8" y="8" width="2.2" height="2.2"/><rect x="8" y="12" width="2.2" height="2.2"/><rect x="10" y="0" width="2.2" height="2.2"/><rect x="10" y="10" width="2.2" height="2.2"/><rect x="10" y="12" width="2.2" height="2.2"/><rect x="12" y="0" width="2.2" height="2.2"/><rect x="12" y="2" width="2.2" height="2.2"/><rect x="12" y="6" width="2.2" height="2.2"/><rect x="12" y="10" width="2.2" height="2.2"/></g></pattern>
<g id="landshade" fill="url(#speck)"><path d="M72.2 132.3 77.6 131.5 80.6 134.2 85.2 131.2 91 128.9 94.8 126.6 99.8 125.8 101.7 128.5 100.9 132.3 103.6 134.2 106.3 129.2 110.1 126.9 115.1 128.5 113.9 132.3 117.8 134.2 125.4 131.2 128 129.2 128 141.9 117.8 142.6 113.9 150.3 112 161.8 106.3 153.4 102.4 157.9 97.9 161.8 92.9 157.9 86 153.4 83.3 158.7 77.6 159.1 71.1 159.9 69.9 154.1 73.4 150.3 72.2 144.9Z"/><path d="M84.9 180.4 92.6 178.7 104.5 184.6 101.1 191.4 106.2 194 104.5 197.4 96.8 195.7 92.6 202.5 84.1 203.3 82.4 195.7 85.8 188.9Z"/><path d="M73.6 132.7 86.3 131 97.4 126.8 101.6 131.8 96.5 138.6 92.3 144.6 86.3 142 80.4 144.6 75.3 142Z"/><path d="M105.2 133.7 113.7 132 116.2 137.1 110.3 144.7 105.2 150.7 101.8 144.7Z"/><path d="M90.8 244.3 95.9 247.7 92.5 251.1 89.1 249.4Z"/><path d="M153.6 246.1 166.3 243.5 166.3 255.2 155.3 255.2Z"/><path d="M301.5 140.5 314.2 139.7 318.4 152.4 310 155 301.5 152.4Z"/><path d="M370.4 62.1 378.2 60.1 384 65.9 378.2 73.7 370.4 70.8Z"/><path d="M104 263.6 124.4 261.1 129.4 265.3 132.8 273.8 117.6 274.7 105.7 274.7Z"/><path d="M147.4 272.6 161.9 273.5 167.8 282.8 155.1 285.3 150 279.4Z"/><path d="M138.3 293.8 147.7 290.4 149.4 295.5 141.7 300.6Z"/><path d="M195 421 206 421.8 214.5 420.1 221.2 428.6 211.9 436.3 206.8 432 198.3 428.6Z"/><path d="M193.6 420.3 203.8 420.3 211.1 419.6 218.3 421.1 221.2 429.8 216.9 433.4 211.1 438.5 206.7 433.4 202.3 427.6 196.5 427.6Z"/><path d="M399.7 340.2 404.1 341.6 407 346 400.5 346Z"/><path d="M232.2 97.8 237.7 90.5 255.2 88.1 259.5 91.7 256.4 101.4 261.3 101.4 259.5 113.5 249.2 116 246.7 107.5 240.7 105Z"/><path d="M258.6 74 263.4 72.1 269.5 77 274.3 82.4 277.9 88.5 274.3 95.8 268.2 100.6 264.6 94.6 259.8 82.4Z"/><path d="M267 61.2 270.1 56.3 281 59.9 287 63.6 291.9 71.5 287 79.3 284.6 86.6 279.8 89 276.1 80.5 274.9 68.4Z"/><path d="M349.9 81.5 355.9 83.9 363.8 83.9 364.4 88.8 358.4 90 353.5 93.6 348.7 90Z"/><path d="M337.1 49.6 343.2 52.7 348 53.3 350.4 57.5 345.6 59.3 340.7 59.3 338.3 55.7Z"/><path d="M331.9 98 336.7 101.1 340.4 102.9 336.7 106.5 333.7 105.3Z"/></g>
<g id="landdark" fill="#333" fill-opacity="1" stroke="#333" stroke-width="2"><path d="M88.1 184.4 93.1 183.3 100.9 187.2 98.7 191.6 102 193.3 100.9 195.5 95.9 194.4 93.1 198.8 87.6 199.4 86.5 194.4 88.7 190Z"/><path d="M78.5 134.2 86.8 133.1 94 130.4 96.8 133.7 93.5 138.1 90.7 142 86.8 140.3 82.9 142 79.6 140.3Z"/><path d="M106.4 136.1 111.9 135 113.6 138.3 109.7 143.3 106.4 147.1 104.2 143.3Z"/><path d="M91.2 245.6 94.5 247.8 92.3 250 90.1 248.9Z"/><path d="M155.9 247.4 164.2 245.8 164.2 253.4 157 253.4Z"/><path d="M304.1 143.1 312.4 142.6 315.2 150.9 309.7 152.5 304.1 150.9Z"/><path d="M372.4 63.6 377.5 62.3 381.3 66.1 377.5 71.2 372.4 69.3Z"/><path d="M109.2 265.4 122.5 263.8 125.8 266.6 128 272.1 118.1 272.6 110.3 272.6Z"/><path d="M150.6 274.7 160 275.3 163.8 281.4 155.5 283 152.2 279.2Z"/><path d="M140.4 294.2 146.5 292 147.6 295.3 142.6 298.7Z"/><path d="M199.4 423.1 206.6 423.6 212.1 422.5 216.5 428 210.4 433 207.1 430.2 201.6 428Z"/><path d="M198.7 422.7 205.3 422.7 210 422.2 214.8 423.2 216.7 428.9 213.8 431.3 210 434.6 207.2 431.3 204.4 427.5 200.6 427.5Z"/><path d="M400.8 341.3 403.7 342.2 405.6 345.1 401.3 345.1Z"/><path d="M238.3 99 241.9 94.3 253.4 92.7 256.1 95 254.1 101.4 257.3 101.4 256.1 109.3 249.4 110.9 247.8 105.3 243.9 103.7Z"/><path d="M261.8 77.9 264.9 76.7 268.9 79.9 272.1 83.4 274.4 87.4 272.1 92.1 268.1 95.3 265.7 91.3 262.6 83.4Z"/><path d="M271.5 64.8 273.5 61.6 280.6 64 284.6 66.4 287.7 71.5 284.6 76.7 283 81.4 279.8 83 277.4 77.4 276.7 69.5Z"/><path d="M352.1 83.6 356.1 85.2 361.2 85.2 361.6 88.3 357.7 89.1 354.5 91.5 351.3 89.1Z"/><path d="M339.3 51.6 343.2 53.6 346.4 54 348 56.8 344.8 57.9 341.7 57.9 340.1 55.6Z"/><path d="M333.3 99.7 336.4 101.7 338.8 102.8 336.4 105.2 334.5 104.4Z"/></g>
</defs>
<rect width="1815" height="2725" fill="#fff"/>

<g transform="translate(20 106)">
<clipPath id="cpa"><rect x="5" y="5" width="514" height="514"/></clipPath>
<g clip-path="url(#cpa)">
<path d="M213.9 40.1C221.7 35.1 225 25.1 234 20.1C242.9 15 256.2 12 267.4 10C278.5 8.1 291.9 9.7 300.8 8.4C309.7 7 310.8 2.5 320.9 1.7C330.9 0.8 347.6 0.8 361 3.3C374.3 5.8 388.8 13.4 401.1 16.7C413.3 20.1 420.6 22.3 434.5 23.4C448.4 24.5 471.8 21.2 484.6 23.4C497.4 25.6 504.8 31.8 511.4 36.8C517.9 41.8 521.9 45.1 524.1 53.5C526.2 61.8 526.2 77.4 524.1 86.9C521.9 96.4 516.3 101.4 511.4 110.3C506.5 119.2 500.8 129.8 494.7 140.4C488.5 151 481.8 163.8 474.6 173.8C467.4 183.8 459 193.3 451.2 200.5C443.4 207.8 435 212.2 427.8 217.2C420.6 222.3 410 225.6 407.8 230.6C405.5 235.6 408.3 241.8 414.4 247.3C420.6 252.9 435.6 257.9 444.5 264C453.4 270.2 461.8 276.8 467.9 284.1C474 291.3 478.5 298.6 481.3 307.5C484.1 316.4 484.6 327.5 484.6 337.6C484.6 347.6 484.1 358.2 481.3 367.6C478.5 377.1 473.5 386 467.9 394.4C462.3 402.7 455.7 411.1 447.9 417.8C440.1 424.5 431.7 431.1 421.1 434.5C410.5 437.8 395.5 438.4 384.4 437.8C373.2 437.3 364.9 433.9 354.3 431.1C343.7 428.4 329.8 423.4 320.9 421.1C311.9 418.9 304.7 413.9 300.8 417.8C296.9 421.7 298.6 435 297.5 444.5C296.3 454 298 465.1 294.1 474.6C290.2 484.1 281.9 493.5 274.1 501.3C266.3 509.1 259.6 516.9 247.3 521.4C235.1 525.8 215 530.3 200.5 528.1C186.1 525.8 169.9 515.8 160.4 508C151 500.2 149.3 489.6 143.7 481.3C138.1 472.9 134.2 466.2 127 457.9C119.8 449.5 107 440.6 100.3 431.1C93.6 421.7 89.7 411.7 86.9 401.1C84.1 390.5 84.7 376.6 83.6 367.6C82.4 358.7 85.8 353.2 80.2 347.6C74.6 342 59 340.9 50.1 334.2C41.2 327.5 33.4 316.4 26.7 307.5C20.1 298.6 13.9 289.7 10 280.7C6.1 271.8 5 264.6 3.3 254C1.7 243.4 -1.1 227.3 0 217.2C1.1 207.2 7.8 204.4 10 193.9C12.3 183.3 11.1 167.7 13.4 153.7C15.6 139.8 18.9 121.4 23.4 110.3C27.9 99.2 32.9 91.9 40.1 86.9C47.3 81.9 56.8 81.9 66.8 80.2C76.9 78.5 88 78 100.3 76.9C112.5 75.8 129.2 76.3 140.4 73.5C151.5 70.7 159.3 64.1 167.1 60.2C174.9 56.3 179.4 53.5 187.2 50.1C195 46.8 206.1 45.1 213.9 40.1Z" fill="#ec1c24" />
<path d="M267.4 35.1C270.7 34 279.6 37.3 287.4 40.1C295.2 42.9 309.2 47.6 314.2 51.8C319.2 56 318.6 62.7 317.5 65.2C316.4 67.7 313.1 68.8 307.5 66.8C301.9 64.9 290.8 56.8 284.1 53.5C277.4 50.1 270.2 49.9 267.4 46.8C264.6 43.7 264 36.2 267.4 35.1Z" fill="#f04e50" />
<use href="#landfill"/>
<g filter="url(#jag)"><use href="#landshade"/><use href="#landline"/><use href="#landdark"/></g>
</g>
<rect x="2.5" y="2.5" width="519" height="519" fill="none" stroke="#232323" stroke-width="5"/>
</g>
<g transform="translate(645.5 106)">
<clipPath id="cpb"><rect x="5" y="5" width="514" height="514"/></clipPath>
<g clip-path="url(#cpb)">
<path d="M180.5 110.3C184.4 107.2 191.1 96.9 197.2 95.3C203.3 93.6 213.1 97.2 217.2 100.3C221.4 103.3 222.8 108.1 222.3 113.6C221.7 119.2 215.9 125.9 213.9 133.7C212 141.5 210.6 151.5 210.6 160.4C210.6 169.3 212.8 177.7 213.9 187.2C215 196.6 217.2 209.4 217.2 217.2C217.2 225 216.1 231.7 213.9 234C211.7 236.2 207.2 235.1 203.9 230.6C200.5 226.2 196.6 215.6 193.9 207.2C191.1 198.9 190 190 187.2 180.5C184.4 171 180.5 157.6 177.1 150.4C173.8 143.2 170.5 138.7 167.1 137C163.8 135.4 159.3 135.4 157.1 140.4C154.9 145.4 153.7 159.3 153.7 167.1C153.7 174.9 158.8 183.3 157.1 187.2C155.4 191.1 147.6 194.4 143.7 190.5C139.8 186.6 137 168.8 133.7 163.8C130.3 158.8 127 161 123.7 160.4C120.3 159.9 117.5 162.7 113.6 160.4C109.7 158.2 103.1 154.3 100.3 147.1C97.5 139.8 93.6 122.5 96.9 117C100.3 111.4 113.1 113.9 120.3 113.6C127.6 113.4 134.2 114.5 140.4 115.3C146.5 116.1 151.5 118.9 157.1 118.6C162.7 118.4 169.9 115 173.8 113.6C177.7 112.2 176.6 113.4 180.5 110.3Z" fill="#ec1c24" />
<path d="M66.8 207.2C69.6 203.9 78 199.4 83.6 200.5C89.1 201.6 94.7 210 100.3 213.9C105.8 217.8 114.8 220.6 117 223.9C119.2 227.3 117.5 232.8 113.6 234C109.7 235.1 99.7 231.2 93.6 230.6C87.5 230.1 81.3 232.3 76.9 230.6C72.4 228.9 68.5 224.5 66.8 220.6C65.2 216.7 64.1 210.6 66.8 207.2Z" fill="#f04e50" />
<path d="M83.6 180.5C86.3 177.1 99.2 174.9 103.6 177.1C108.1 179.4 111.4 190 110.3 193.9C109.2 197.7 100.8 200 96.9 200.5C93 201.1 89.1 200.5 86.9 197.2C84.7 193.9 80.8 183.8 83.6 180.5Z" fill="#f04e50" />
<path d="M247.3 137C249.6 133.7 258.5 129.2 267.4 127C276.3 124.8 290.8 123.7 300.8 123.7C310.8 123.7 322 124.8 327.5 127C333.1 129.2 335.3 133.1 334.2 137C333.1 140.9 324.2 147.1 320.9 150.4C317.5 153.7 318.6 156.5 314.2 157.1C309.7 157.6 301.9 154.9 294.1 153.7C286.3 152.6 274.1 151.5 267.4 150.4C260.7 149.3 257.4 149.3 254 147.1C250.7 144.8 245.1 140.4 247.3 137Z" fill="#ee9999" />
<path d="M83.6 384.4C89.7 379.9 115.3 375.4 123.7 381C132 386.6 128.7 407.2 133.7 417.8C138.7 428.4 145.9 436.2 153.7 444.5C161.5 452.9 172.7 460.7 180.5 467.9C188.3 475.2 191.6 484.1 200.5 488C209.4 491.9 225 493.5 234 491.3C242.9 489.1 250.1 484.1 254 474.6C257.9 465.1 255.7 446.2 257.4 434.5C259 422.8 256.8 409.4 264 404.4C271.3 399.4 294.1 400.5 300.8 404.4C307.5 408.3 304.7 417.2 304.1 427.8C303.6 438.4 301.4 456.8 297.5 467.9C293.6 479.1 289.1 485.7 280.7 494.7C272.4 503.6 260.7 515.8 247.3 521.4C234 527 215 529.7 200.5 528.1C186.1 526.4 170.5 518.6 160.4 511.4C150.4 504.1 147.6 494.1 140.4 484.6C133.1 475.2 124.2 462.9 117 454.5C109.7 446.2 101.9 442.3 96.9 434.5C91.9 426.7 89.1 416.1 86.9 407.8C84.7 399.4 77.4 388.8 83.6 384.4Z" fill="#9896c8" />
<path d="M264 264C268.5 256.8 289.1 251.2 300.8 247.3C312.5 243.4 328.7 239.5 334.2 240.6C339.8 241.8 339.8 250.1 334.2 254C328.7 257.9 307.5 260.1 300.8 264C294.1 267.9 295.8 268.5 294.1 277.4C292.4 286.3 292.4 308.6 290.8 317.5C289.1 326.4 285.5 322.5 284.1 330.9C282.7 339.2 283.8 357.3 282.4 367.6C281 378 278.2 386.6 275.7 392.7C273.2 398.8 270.4 402.5 267.4 404.4C264.3 406.4 260.1 407.8 257.4 404.4C254.6 401.1 250.1 393.3 250.7 384.4C251.2 375.4 257.9 362.1 260.7 350.9C263.5 339.8 265.2 327.5 267.4 317.5C269.6 307.5 274.6 299.7 274.1 290.8C273.5 281.9 259.6 271.3 264 264Z" fill="#ee9999" />
<path d="M299.1 300.8C300.5 294.7 303.9 296.3 305.8 297.5C307.8 298.6 309.9 301.4 310.8 307.5C311.8 313.6 311.9 324.2 311.5 334.2C311.1 344.3 309.3 354.8 308.2 367.6C307 380.5 307.2 404.1 304.8 411.1C302.5 418.1 297.3 410.5 294.1 409.4C290.9 408.3 286.3 406.9 285.8 404.4C285.2 401.9 289.1 400.5 290.8 394.4C292.4 388.3 294.7 377.7 295.8 367.6C296.9 357.6 296.9 345.4 297.5 334.2C298 323.1 297.7 306.9 299.1 300.8Z" fill="#ee9999" />
<path d="M153.7 244C159.9 235.6 169.3 233.4 177.1 234C184.9 234.5 191.6 240.6 200.5 247.3C209.4 254 225 265.2 230.6 274.1C236.2 283 230.6 290.8 234 300.8C237.3 310.8 246.8 317.5 250.7 334.2C254.6 350.9 256.8 378.8 257.4 401.1C257.9 423.4 257.9 453.4 254 467.9C250.1 482.4 242.9 484.6 234 488C225 491.3 208.3 491.9 200.5 488C192.7 484.1 194.4 473.5 187.2 464.6C179.9 455.7 166 445.1 157.1 434.5C148.2 423.9 138.7 412.2 133.7 401.1C128.7 389.9 129.2 378.8 127 367.6C124.8 356.5 120.9 344.3 120.3 334.2C119.8 324.2 120.3 315.8 123.7 307.5C127 299.1 135.4 294.7 140.4 284.1C145.4 273.5 147.6 252.3 153.7 244Z" fill="#f04e50" stroke="#fff" stroke-width="1.2"/>
<path d="M123.7 344.3C129.8 341.5 149.8 339.2 160.4 337.6C171 335.9 176 335.3 187.2 334.2C198.3 333.1 219.5 329.2 227.3 330.9C235.1 332.6 233.4 340.9 234 344.3C234.5 347.6 236.2 349.3 230.6 350.9C225 352.6 211.1 353.7 200.5 354.3C190 354.8 176.6 352 167.1 354.3C157.6 356.5 149.3 362.6 143.7 367.6C138.1 372.7 136.5 384.4 133.7 384.4C130.9 384.4 128.7 372.7 127 367.6C125.3 362.6 124.2 358.2 123.7 354.3C123.1 350.4 117.5 347 123.7 344.3Z" fill="#ec1c24" />
<path d="M160.4 364.3C164.9 363.7 178.3 368.2 187.2 371C196.1 373.8 208.9 378.2 213.9 381C218.9 383.8 218.4 386 217.2 387.7C216.1 389.4 213.3 392.2 207.2 391C201.1 389.9 188.3 383.8 180.5 381C172.7 378.2 163.8 377.1 160.4 374.3C157.1 371.5 156 364.9 160.4 364.3Z" fill="#ec1c24" />
<path d="M357.6 234C360.4 230.6 370.4 225 377.7 223.9C384.9 222.8 394.9 223.9 401.1 227.3C407.2 230.6 414.4 239 414.4 244C414.4 249 405.5 253.5 401.1 257.4C396.6 261.3 392.2 267.9 387.7 267.4C383.2 266.8 378.8 257.9 374.3 254C369.9 250.1 363.7 247.3 361 244C358.2 240.6 354.8 237.3 357.6 234Z" fill="#ee9999" />
<path d="M314.2 300.8C317.5 296.9 326.4 297.5 334.2 294.1C342 290.8 352 283.5 361 280.7C369.9 278 379.9 274.1 387.7 277.4C395.5 280.7 400.5 295.8 407.8 300.8C415 305.8 426.1 301.9 431.1 307.5C436.2 313.1 437.3 325.3 437.8 334.2C438.4 343.1 438.4 352.6 434.5 361C430.6 369.3 420 377.1 414.4 384.4C408.9 391.6 406.1 401.1 401.1 404.4C396.1 407.8 389.4 407.2 384.4 404.4C379.3 401.6 374.9 392.2 371 387.7C367.1 383.2 367.1 377.7 361 377.7C354.8 377.7 340.9 389.4 334.2 387.7C327.5 386 323.1 376.6 320.9 367.6C318.6 358.7 322 342.6 320.9 334.2C319.7 325.9 315.3 323.1 314.2 317.5C313.1 311.9 310.8 304.7 314.2 300.8Z" fill="#f04e50" />
<use href="#landfill"/>
<g filter="url(#jag)"><use href="#landshade"/><use href="#landline"/><use href="#landdark"/></g>
</g>
<rect x="2.5" y="2.5" width="519" height="519" fill="none" stroke="#232323" stroke-width="5"/>
</g>
<g transform="translate(1272 106)">
<clipPath id="cpc"><rect x="5" y="5" width="514" height="514"/></clipPath>
<g clip-path="url(#cpc)">
<path d="M297.5 10C300.8 3.9 311.4 4.7 320.9 3.3C330.3 1.9 343.7 0 354.3 1.7C364.9 3.3 373.8 10.3 384.4 13.4C394.9 16.4 408.9 17.8 417.8 20.1C426.7 22.3 433.7 20.1 437.8 26.7C442 33.4 446.7 54.6 442.8 60.2C438.9 65.7 424.2 61.3 414.4 60.2C404.7 59 394.9 55.7 384.4 53.5C373.8 51.2 360.4 48.5 350.9 46.8C341.5 45.1 333.7 42.9 327.5 43.4C321.4 44 318.6 50.7 314.2 50.1C309.7 49.6 303.6 46.8 300.8 40.1C298 33.4 294.1 16.2 297.5 10Z" fill="#9896c8" />
<path d="M95.3 117C101.7 112.5 123.4 113.6 133.7 113.6C144 113.6 149.8 117.5 157.1 117C164.3 116.4 171 113.6 177.1 110.3C183.3 107 187.7 99.2 193.9 96.9C200 94.7 209.4 95.3 213.9 96.9C218.4 98.6 220.6 103.1 220.6 107C220.6 110.9 216.7 117 213.9 120.3C211.1 123.7 206.1 123.1 203.9 127C201.6 130.9 201.1 135.9 200.5 143.7C200 151.5 198.9 165.4 200.5 173.8C202.2 182.2 208.3 184.4 210.6 193.9C212.8 203.3 215 223.9 213.9 230.6C212.8 237.3 207.8 236.7 203.9 234C200 231.2 194.4 221.7 190.5 213.9C186.6 206.1 183.3 196.6 180.5 187.2C177.7 177.7 176.6 164.9 173.8 157.1C171 149.3 166.6 140.9 163.8 140.4C161 139.8 158.8 145.9 157.1 153.7C155.4 161.5 156.5 181 153.7 187.2C151 193.3 143.7 193.3 140.4 190.5C137 187.7 137 174.9 133.7 170.5C130.3 166 124.2 164.3 120.3 163.8C116.4 163.2 113.6 168.2 110.3 167.1C107 166 102.8 161.5 100.3 157.1C97.8 152.6 96.1 147.1 95.3 140.4C94.4 133.7 88.8 121.4 95.3 117Z" fill="#9896c8" />
<path d="M287.4 270.7C288.5 266.8 294.1 262.9 297.5 264C300.8 265.2 304.1 271.3 307.5 277.4C310.8 283.5 317 295.8 317.5 300.8C318.1 305.8 313.6 306.9 310.8 307.5C308 308 304.1 307.5 300.8 304.1C297.5 300.8 293 293 290.8 287.4C288.5 281.9 286.3 274.6 287.4 270.7Z" fill="#ee9999" />
<path d="M344.3 244C345.9 241.5 353.2 236.2 357.6 235.6C362.1 235.1 367.1 237 371 240.6C374.9 244.3 378.8 252.3 381 257.4C383.2 262.4 385.5 266.8 384.4 270.7C383.2 274.6 377.1 279.6 374.3 280.7C371.5 281.9 369.9 281.3 367.6 277.4C365.4 273.5 364.3 261.8 361 257.4C357.6 252.9 350.4 252.9 347.6 250.7C344.8 248.4 342.6 246.5 344.3 244Z" fill="#ee9999" />
<path d="M297.5 310.8C299.7 306.1 305.3 304.1 310.8 305.8C316.4 307.5 321.4 324.5 330.9 320.9C340.4 317.2 359.3 291.3 367.6 284.1C376 276.8 378.2 280.7 381 277.4C383.8 274.1 381 269.1 384.4 264C387.7 259 395.5 250.4 401.1 247.3C406.6 244.3 411.7 242.9 417.8 245.7C423.9 248.4 430.6 257.6 437.8 264C445.1 270.4 454 276.8 461.2 284.1C468.5 291.3 477.1 298.6 481.3 307.5C485.5 316.4 486.3 327.5 486.3 337.6C486.3 347.6 485.5 357.1 481.3 367.6C477.1 378.2 469 391 461.2 401.1C453.4 411.1 445.6 421.1 434.5 427.8C423.4 434.5 407.8 440.1 394.4 441.2C381 442.3 366.5 437.3 354.3 434.5C342 431.7 330.3 427.8 320.9 424.5C311.4 421.1 301.6 423.9 297.5 414.4C293.3 405 295.8 381 295.8 367.6C295.8 354.3 297.2 343.7 297.5 334.2C297.7 324.8 295.2 315.6 297.5 310.8Z" fill="#f04e50" />
<path d="M327.8 306.5 339.3 301.4 354.6 302.7 362.2 295 377.6 287.4 387.8 292.5 389 305.2 400.5 319.3 406.9 316.7 420.9 315.4 423.5 320.5 420.9 333.3 422.2 339.7 418.4 352.4 408.2 366.4 400.5 374.1 392.9 383 390.3 392 387.8 388.1 390.3 377.9 389 370.3 385.2 361.3 392.9 358.8 387.8 356.2 380.1 353.7 372.4 356.2 364.8 363.9 352 370.3 341.8 375.4 336.7 374.1 339.3 363.9 344.4 356.2 346.9 343.5 350.8 326.9 346.9 321.8 339.3 318Z" fill="none" stroke="#fff" stroke-width="9"/>
<use href="#landfill"/>
<g filter="url(#jag)"><use href="#landshade"/><use href="#landline"/><use href="#landdark"/></g>
</g>
<rect x="2.5" y="2.5" width="519" height="519" fill="none" stroke="#232323" stroke-width="5"/>
</g>
<g transform="translate(20 724.5)">
<clipPath id="cpd"><rect x="5" y="5" width="514" height="514"/></clipPath>
<g clip-path="url(#cpd)">
<path d="M192.2 60.2C194.4 54 206.9 43.4 213.9 36.8C220.9 30.1 226.2 24.8 234 20.1C241.8 15.3 253.7 10.6 260.7 8.4C267.7 6.1 273.2 1.9 275.7 6.7C278.2 11.4 277.7 30.6 275.7 36.8C273.8 42.9 267.7 40.7 264 43.4C260.4 46.2 257.4 48.5 254 53.5C250.7 58.5 248.4 69.1 244 73.5C239.5 78 232.3 77.2 227.3 80.2C222.3 83.3 217.2 90.2 213.9 91.9C210.6 93.6 209.4 93.3 207.2 90.2C205 87.2 203 78.5 200.5 73.5C198 68.5 190 66.3 192.2 60.2Z" fill="#505ba9" />
<path d="M297.5 13.4C300.8 8.6 311.9 7 320.9 5C329.8 3.1 340.4 0.3 350.9 1.7C361.5 3.1 373.2 10.3 384.4 13.4C395.5 16.4 408.9 17.8 417.8 20.1C426.7 22.3 433.4 20.1 437.8 26.7C442.3 33.4 448.4 54.6 444.5 60.2C440.6 65.7 424.5 61.3 414.4 60.2C404.4 59 394.9 55.7 384.4 53.5C373.8 51.2 360.4 48.5 350.9 46.8C341.5 45.1 333.1 42.9 327.5 43.4C322 44 321.4 49 317.5 50.1C313.6 51.2 306.9 52.9 304.1 50.1C301.4 47.3 301.9 39.5 300.8 33.4C299.7 27.3 294.1 18.1 297.5 13.4Z" fill="#f04e50" />
<path d="M217.2 107C218.4 105.8 224.5 103.6 227.3 103.6C230.1 103.6 232.6 105.6 234 107C235.3 108.3 236.2 110.9 235.6 112C235.1 113.1 233.1 113.9 230.6 113.6C228.1 113.4 222.8 111.4 220.6 110.3C218.4 109.2 216.1 108.1 217.2 107Z" fill="#ee9999" />
<path d="M264 150.4C264.6 147.1 268.5 145.9 270.7 147.1C273 148.2 275.2 152.1 277.4 157.1C279.6 162.1 280.2 172.7 284.1 177.1C288 181.6 294.7 181.6 300.8 183.8C306.9 186.1 315.3 188.8 320.9 190.5C326.4 192.2 330.9 192.2 334.2 193.9C337.6 195.5 339.2 197.2 340.9 200.5C342.6 203.9 341.5 211.1 344.3 213.9C347 216.7 354.6 214.5 357.6 217.2C360.7 220 362.6 226.7 362.6 230.6C362.6 234.5 360.1 237.9 357.6 240.6C355.1 243.4 350.4 248.4 347.6 247.3C344.8 246.2 342.6 237.9 340.9 234C339.2 230.1 340.9 227.8 337.6 223.9C334.2 220 327 214.5 320.9 210.6C314.7 206.7 307.5 203.3 300.8 200.5C294.1 197.7 285.5 197.2 280.7 193.9C276 190.5 274.6 184.9 272.4 180.5C270.2 176 268.8 172.1 267.4 167.1C266 162.1 263.5 153.7 264 150.4Z" fill="#ee9999" />
<use href="#landfill"/>
<g filter="url(#jag)"><use href="#landshade"/><use href="#landline"/><use href="#landdark"/></g>
</g>
<rect x="2.5" y="2.5" width="519" height="519" fill="none" stroke="#232323" stroke-width="5"/>
</g>
<g transform="translate(645.5 724.5)">
<clipPath id="cpe"><rect x="5" y="5" width="514" height="514"/></clipPath>
<g clip-path="url(#cpe)">
<path d="M58.5 133.7C61 124.8 67.1 123.7 73.5 120.3C79.9 117 93 115.9 96.9 113.6C100.8 111.4 90.8 108.6 96.9 107C103.1 105.3 123.1 103.6 133.7 103.6C144.3 103.6 154.3 107 160.4 107C166.6 107 166 107 170.5 103.6C174.9 100.3 179.9 90 187.2 86.9C194.4 83.8 208.3 84.1 213.9 85.2C219.5 86.3 217.2 94.4 220.6 93.6C223.9 92.7 229.5 84.7 234 80.2C238.4 75.8 242.3 72.7 247.3 66.8C252.3 61 259.3 49 264 45.1C268.8 41.2 273.5 39.8 275.7 43.4C278 47.1 277.7 58.5 277.4 66.8C277.1 75.2 276.8 82.4 274.1 93.6C271.3 104.7 264.6 125.9 260.7 133.7C256.8 141.5 254 141.5 250.7 140.4C247.3 139.3 246.2 131.5 240.6 127C235.1 122.5 223.9 117 217.2 113.6C210.6 110.3 205.5 107 200.5 107C195.5 107 188.3 108.1 187.2 113.6C186.1 119.2 190.5 128.1 193.9 140.4C197.2 152.6 203.9 172.1 207.2 187.2C210.6 202.2 215 223.9 213.9 230.6C212.8 237.3 205 232.3 200.5 227.3C196.1 222.3 191.6 213.9 187.2 200.5C182.7 187.2 178.8 157.1 173.8 147.1C168.8 137 161 133.7 157.1 140.4C153.2 147.1 153.2 178.8 150.4 187.2C147.6 195.5 144.3 192.7 140.4 190.5C136.5 188.3 132 178.8 127 173.8C122 168.8 115.9 163.2 110.3 160.4C104.7 157.6 98.6 154.9 93.6 157.1C88.6 159.3 81.9 166.6 80.2 173.8C78.5 181 84.1 193.9 83.6 200.5C83 207.2 79.7 212.8 76.9 213.9C74.1 215 69.9 213.9 66.8 207.2C63.8 200.5 59.9 186.1 58.5 173.8C57.1 161.5 56 142.6 58.5 133.7Z" fill="#f04e50" />
<path d="M96.9 107C103.1 105 123.1 103.6 133.7 103.6C144.3 103.6 154.3 107 160.4 107C166.6 107 166 107 170.5 103.6C174.9 100.3 179.9 90 187.2 86.9C194.4 83.8 208.6 84.1 213.9 85.2C219.2 86.3 220 91.6 218.9 93.6C217.8 95.5 212.5 95.8 207.2 96.9C201.9 98 193.9 97.5 187.2 100.3C180.5 103.1 176 111.4 167.1 113.6C158.2 115.9 145.4 113.4 133.7 113.6C122 113.9 103.1 116.4 96.9 115.3C90.8 114.2 90.8 108.9 96.9 107Z" fill="#ec1c24" />
<path d="M247.3 66.8C249 61.6 259.3 49 264 45.1C268.8 41.2 273.5 39.8 275.7 43.4C278 47.1 278.8 62.4 277.4 66.8C276 71.3 271.3 68.5 267.4 70.2C263.5 71.9 257.4 77.4 254 76.9C250.7 76.3 245.7 72.1 247.3 66.8Z" fill="#ec1c24" />
<path d="M45.1 220.6C46.8 214.5 54.9 214.5 60.2 213.9C65.5 213.3 72.4 213.9 76.9 217.2C81.3 220.6 81.9 227.8 86.9 234C91.9 240.1 99.7 249 107 254C114.2 259 125.9 260.1 130.3 264C134.8 267.9 133.7 269.6 133.7 277.4C133.7 285.2 133.1 304.7 130.3 310.8C127.6 317 124.2 314.7 117 314.2C109.7 313.6 94.1 310.8 86.9 307.5C79.7 304.1 78 299.1 73.5 294.1C69.1 289.1 64.1 284.6 60.2 277.4C56.3 270.2 52.6 260.1 50.1 250.7C47.6 241.2 43.4 226.7 45.1 220.6Z" fill="#f04e50" />
<path d="M434.5 26.7C436.7 23.1 442.8 22.3 451.2 21.7C459.6 21.2 474.6 20.9 484.6 23.4C494.7 25.9 504.8 31.8 511.4 36.8C517.9 41.8 521.9 42.9 524.1 53.5C526.2 64.1 527.9 86.9 524.1 100.3C520.3 113.6 507.9 123.7 501.3 133.7C494.8 143.7 491.3 151.5 484.6 160.4C477.9 169.3 469.6 178.3 461.2 187.2C452.9 196.1 444.5 206.7 434.5 213.9C424.5 221.1 413.3 226.7 401.1 230.6C388.8 234.5 369.9 239 361 237.3C352 235.6 352.6 226.7 347.6 220.6C342.6 214.5 333.1 205.5 330.9 200.5C328.7 195.5 330.3 191.6 334.2 190.5C338.1 189.4 345.9 192.7 354.3 193.9C362.6 195 373.8 199.4 384.4 197.2C394.9 195 407.2 188.8 417.8 180.5C428.4 172.1 438.9 160.4 447.9 147.1C456.8 133.7 465.1 113.6 471.3 100.3C477.4 86.9 484.1 74.6 484.6 66.8C485.2 59 481.3 54.6 474.6 53.5C467.9 52.4 450.6 61.8 444.5 60.2C438.4 58.5 439.5 49 437.8 43.4C436.2 37.9 432.3 30.4 434.5 26.7Z" fill="#ec1c24" />
<path d="M274.1 264C278.5 258.5 293 254 300.8 250.7C308.6 247.3 315.3 245.7 320.9 244C326.4 242.3 332 239 334.2 240.6C336.5 242.3 338.1 250.1 334.2 254C330.3 257.9 317 260.1 310.8 264C304.7 267.9 300.2 267.9 297.5 277.4C294.7 286.9 296.9 311.9 294.1 320.9C291.3 329.8 283 321.4 280.7 330.9C278.5 340.4 283 368.2 280.7 377.7C278.5 387.1 271.8 382.7 267.4 387.7C262.9 392.7 258.5 404.4 254 407.8C249.6 411.1 242.9 410.5 240.6 407.8C238.4 405 237.9 397.7 240.6 391C243.4 384.4 253.5 377.1 257.4 367.6C261.3 358.2 262.4 345.4 264 334.2C265.7 323.1 265.7 309.2 267.4 300.8C269.1 292.4 273 290.2 274.1 284.1C275.2 278 269.6 269.6 274.1 264Z" fill="#9896c8" />
<use href="#landfill"/>
<g filter="url(#jag)"><use href="#landshade"/><use href="#landline"/><use href="#landdark"/></g>
</g>
<rect x="2.5" y="2.5" width="519" height="519" fill="none" stroke="#232323" stroke-width="5"/>
</g>
<g transform="translate(1272 724.5)">
<clipPath id="cpf"><rect x="5" y="5" width="514" height="514"/></clipPath>
<g clip-path="url(#cpf)">
<path d="M46.8 120.3C51.2 115.3 61.3 112.8 70.2 110.3C79.1 107.8 94.7 103.9 100.3 105.3C105.8 106.7 104.7 115.3 103.6 118.6C102.5 122 98.6 123.4 93.6 125.3C88.6 127.3 78 126.2 73.5 130.3C69.1 134.5 67.1 140.9 66.8 150.4C66.6 159.9 70.5 177.7 71.9 187.2C73.3 196.6 78.3 201.1 75.2 207.2C72.1 213.3 56.5 212.8 53.5 223.9C50.4 235.1 53.5 261.5 56.8 274.1C60.2 286.6 66.8 293.8 73.5 299.1C80.2 304.4 88.6 305 96.9 305.8C105.3 306.7 118.4 303.3 123.7 304.1C129 305 129.8 308 128.7 310.8C127.6 313.6 124.5 318.9 117 320.9C109.5 322.8 93 324.5 83.6 322.5C74.1 320.6 66.8 315 60.2 309.2C53.5 303.3 47.6 296.6 43.4 287.4C39.3 278.2 36.8 265.2 35.1 254C33.4 242.9 31.5 228.9 33.4 220.6C35.4 212.2 44.6 212.8 46.8 203.9C49 195 47.3 177.7 46.8 167.1C46.2 156.5 43.4 148.2 43.4 140.4C43.4 132.6 42.3 125.3 46.8 120.3Z" fill="#9896c8" />
<path d="M208.9 91.9C210 87.5 213.1 81 217.2 76.9C221.4 72.7 228.9 71.3 234 66.8C239 62.4 242.3 55.4 247.3 50.1C252.3 44.8 259.9 37.6 264 35.1C268.2 32.6 271 32.6 272.4 35.1C273.8 37.6 274.9 45.4 272.4 50.1C269.9 54.9 261.5 59 257.4 63.5C253.2 68 251.2 73 247.3 76.9C243.4 80.8 237.3 83 234 86.9C230.6 90.8 227.8 96.6 227.3 100.3C226.7 103.9 232.3 106.7 230.6 108.6C228.9 110.6 220.6 112.8 217.2 112C213.9 111.1 212 107 210.6 103.6C209.2 100.3 207.8 96.4 208.9 91.9Z" fill="#505ba9" />
<path d="M270.7 46.8C275.2 46.2 287.4 53.5 294.1 56.8C300.8 60.2 305.8 67.4 310.8 66.8C315.8 66.3 319.7 56.3 324.2 53.5C328.7 50.7 334.8 46.8 337.6 50.1C340.4 53.5 340.9 64.1 340.9 73.5C340.9 83 339.8 103.1 337.6 107C335.3 110.9 331.4 100.8 327.5 96.9C323.6 93 319.7 87.5 314.2 83.6C308.6 79.7 300.2 76.3 294.1 73.5C288 70.7 281.9 69.1 277.4 66.8C273 64.6 268.5 63.5 267.4 60.2C266.3 56.8 266.3 47.3 270.7 46.8Z" fill="#9896c8" />
<path d="M270.7 35.1C273.5 32.9 280.7 34.3 287.4 36.8C294.1 39.3 304.7 48.2 310.8 50.1C317 52.1 322.2 47.3 324.2 48.5C326.1 49.6 324.8 53.8 322.5 56.8C320.3 59.9 315.6 66.8 310.8 66.8C306.1 66.8 300.8 59.6 294.1 56.8C287.4 54 274.6 53.8 270.7 50.1C266.8 46.5 267.9 37.3 270.7 35.1Z" fill="#f04e50" />
<path d="M210.6 110.3C212.8 107.5 222.3 104.7 227.3 107C232.3 109.2 234 116.4 240.6 123.7C247.3 130.9 259 141.5 267.4 150.4C275.7 159.3 281.9 171 290.8 177.1C299.7 183.3 313.1 183.8 320.9 187.2C328.7 190.5 332 192.7 337.6 197.2C343.1 201.6 349.8 208.9 354.3 213.9C358.7 218.9 357.6 225.6 364.3 227.3C371 228.9 387.1 222.8 394.4 223.9C401.6 225 405 230.1 407.8 234C410.5 237.9 413.9 242.3 411.1 247.3C408.3 252.3 397.2 259 391 264C384.9 269.1 378.2 276.8 374.3 277.4C370.4 278 374.3 272.4 367.6 267.4C361 262.4 342 254 334.2 247.3C326.4 240.6 326.4 232.8 320.9 227.3C315.3 221.7 306.9 219.5 300.8 213.9C294.7 208.3 290.2 199.4 284.1 193.9C278 188.3 269.1 187.2 264 180.5C259 173.8 257.9 160.4 254 153.7C250.1 147.1 245.1 144.8 240.6 140.4C236.2 135.9 231.7 129.8 227.3 127C222.8 124.2 216.7 126.4 213.9 123.7C211.1 120.9 208.3 113.1 210.6 110.3Z" fill="#3953a4" />
<path d="M290.8 267.4C291.9 263.5 294.7 262.4 297.5 264C300.2 265.7 304.1 271.3 307.5 277.4C310.8 283.5 317 295.8 317.5 300.8C318.1 305.8 313.6 306.9 310.8 307.5C308 308 304.1 307.5 300.8 304.1C297.5 300.8 292.4 293.6 290.8 287.4C289.1 281.3 289.7 271.3 290.8 267.4Z" fill="#3953a4" />
<path d="M300.8 309.2C300.8 313.9 309.2 324.5 310.8 334.2C312.5 344 309.2 358.7 310.8 367.6C312.5 376.6 315.8 382.1 320.9 387.7C325.9 393.3 333.1 398.3 340.9 401.1C348.7 403.9 358.7 402.2 367.6 404.4C376.6 406.6 384.4 415 394.4 414.4C404.4 413.9 419.5 407.8 427.8 401.1C436.2 394.4 440.6 385.5 444.5 374.3C448.4 363.2 450.6 346.5 451.2 334.2C451.8 322 451.8 307.5 447.9 300.8C444 294.1 435.6 298 427.8 294.1C420 290.2 407.8 281.9 401.1 277.4C394.4 273 392.2 267.4 387.7 267.4C383.2 267.4 376.6 274.1 374.3 277.4C372.1 280.7 371 285.2 374.3 287.4C377.7 289.7 387.1 287.4 394.4 290.8C401.6 294.1 411.7 302.5 417.8 307.5C423.9 312.5 428.9 313.6 431.1 320.9C433.4 328.1 432.3 341.5 431.1 350.9C430 360.4 429.5 370.4 424.5 377.7C419.5 384.9 410 393.3 401.1 394.4C392.2 395.5 380.5 386.6 371 384.4C361.5 382.1 350.9 383.8 344.3 381C337.6 378.2 333.7 374.9 330.9 367.6C328.1 360.4 329.8 345.9 327.5 337.6C325.3 329.2 320.3 322.8 317.5 317.5C314.7 312.2 313.6 307.2 310.8 305.8C308 304.4 300.8 304.4 300.8 309.2Z" fill="#9896c8" />
<path d="M128.7 381C131.5 378.2 142.3 377.7 147.1 381C151.8 384.4 151.5 395.5 157.1 401.1C162.7 406.6 173.2 411.7 180.5 414.4C187.7 417.2 191.6 419.5 200.5 417.8C209.4 416.1 224.5 407.2 234 404.4C243.4 401.6 254 396.1 257.4 401.1C260.7 406.1 255.1 424.5 254 434.5C252.9 444.5 252.9 453.4 250.7 461.2C248.4 469 246.8 476.8 240.6 481.3C234.5 485.7 221.1 488 213.9 488C206.7 488 201.6 486.9 197.2 481.3C192.7 475.7 192.2 462.3 187.2 454.5C182.2 446.7 174.4 440.6 167.1 434.5C159.9 428.4 149.8 423.9 143.7 417.8C137.6 411.7 132.9 403.9 130.3 397.7C127.8 391.6 125.9 383.8 128.7 381Z" fill="#9896c8" />
<path d="M327.8 306.5 339.3 301.4 354.6 302.7 362.2 295 377.6 287.4 387.8 292.5 389 305.2 400.5 319.3 406.9 316.7 420.9 315.4 423.5 320.5 420.9 333.3 422.2 339.7 418.4 352.4 408.2 366.4 400.5 374.1 392.9 383 390.3 392 387.8 388.1 390.3 377.9 389 370.3 385.2 361.3 392.9 358.8 387.8 356.2 380.1 353.7 372.4 356.2 364.8 363.9 352 370.3 341.8 375.4 336.7 374.1 339.3 363.9 344.4 356.2 346.9 343.5 350.8 326.9 346.9 321.8 339.3 318Z" fill="none" stroke="#fff" stroke-width="9"/>
<use href="#landfill"/>
<g filter="url(#jag)"><use href="#landshade"/><use href="#landline"/><use href="#landdark"/></g>
</g>
<rect x="2.5" y="2.5" width="519" height="519" fill="none" stroke="#232323" stroke-width="5"/>
</g>
<g transform="translate(20 1342)">
<clipPath id="cpg"><rect x="5" y="5" width="514" height="514"/></clipPath>
<g clip-path="url(#cpg)">
<path d="M267.4 36.8C269.3 34.8 275.2 32.9 280.7 33.4C286.3 34 295.2 37.9 300.8 40.1C306.4 42.3 310.3 45.1 314.2 46.8C318.1 48.5 322.5 46.8 324.2 50.1C325.9 53.5 326.4 63.2 324.2 66.8C322 70.5 315.8 72.4 310.8 71.9C305.8 71.3 299.7 67.1 294.1 63.5C288.5 59.9 281.6 53.2 277.4 50.1C273.2 47.1 270.7 47.3 269.1 45.1C267.4 42.9 265.4 38.7 267.4 36.8Z" fill="#3953a4" />
<path d="M324.2 43.4C326.4 40.4 332.6 38.4 337.6 38.4C342.6 38.4 348.2 41.5 354.3 43.4C360.4 45.4 366.5 47.9 374.3 50.1C382.1 52.4 391.6 54.6 401.1 56.8C410.5 59 423.4 61 431.1 63.5C438.9 66 445.6 69.1 447.9 71.9C450.1 74.6 447.9 78.8 444.5 80.2C441.2 81.6 435 80.8 427.8 80.2C420.6 79.7 411.1 76.3 401.1 76.9C391 77.4 375.4 81.3 367.6 83.6C359.8 85.8 357.6 90.2 354.3 90.2C350.9 90.2 350.9 88 347.6 83.6C344.3 79.1 338.1 68 334.2 63.5C330.3 59 325.9 60.2 324.2 56.8C322.5 53.5 322 46.5 324.2 43.4Z" fill="#505ba9" />
<path d="M330.9 193.9C332 191.6 337.6 189.4 340.9 190.5C344.3 191.6 346.5 197.2 350.9 200.5C355.4 203.9 361.5 206.7 367.6 210.6C373.8 214.5 384.9 220.6 387.7 223.9C390.5 227.3 388.8 228.4 384.4 230.6C379.9 232.8 366 237.9 361 237.3C355.9 236.7 355.9 231.2 354.3 227.3C352.6 223.4 354.3 217.8 350.9 213.9C347.6 210 337.6 207.2 334.2 203.9C330.9 200.5 329.8 196.1 330.9 193.9Z" fill="#f04e50" />
<path d="M86.9 337.6C88.8 334.8 96.4 327.5 100.3 324.2C104.2 320.9 107.5 318.1 110.3 317.5C113.1 317 115.9 317 117 320.9C118.1 324.8 119.8 337.3 117 340.9C114.2 344.5 105 342.6 100.3 342.6C95.5 342.6 90.8 341.7 88.6 340.9C86.3 340.1 84.9 340.4 86.9 337.6Z" fill="#ec1c24" />
<path d="M81.9 384.4C88 380.5 115 377.1 123.7 381C132.3 384.9 128.7 399.4 133.7 407.8C138.7 416.1 145.9 422.8 153.7 431.1C161.5 439.5 173.2 450.1 180.5 457.9C187.7 465.7 192.7 472.9 197.2 477.9C201.6 483 201.1 486.3 207.2 488C213.3 489.6 226.7 491.3 234 488C241.2 484.6 246.8 476.8 250.7 467.9C254.6 459 255.7 445.6 257.4 434.5C259 423.4 254.6 406.6 260.7 401.1C266.8 395.5 287.2 399.4 294.1 401.1C301.1 402.7 301.9 401.1 302.5 411.1C303 421.1 300.5 447.9 297.5 461.2C294.4 474.6 291.3 481.8 284.1 491.3C276.8 500.8 265.2 511.9 254 518C242.9 524.2 230.6 528.1 217.2 528.1C203.9 528.1 185.5 524.7 173.8 518C162.1 511.4 154.9 498.6 147.1 488C139.3 477.4 134.8 464 127 454.5C119.2 445.1 107 439.5 100.3 431.1C93.6 422.8 90 412.2 86.9 404.4C83.8 396.6 75.8 388.3 81.9 384.4Z" fill="#ee9999" />
<use href="#landfill"/>
<g filter="url(#jag)"><use href="#landshade"/><use href="#landline"/><use href="#landdark"/></g>
</g>
<rect x="2.5" y="2.5" width="519" height="519" fill="none" stroke="#232323" stroke-width="5"/>
</g>
<g transform="translate(645.5 1342)">
<clipPath id="cph"><rect x="5" y="5" width="514" height="514"/></clipPath>
<g clip-path="url(#cph)">
<path d="M314.2 43.4C316.7 40.3 325.3 34.3 330.9 31.8C336.5 29.2 341.5 27.9 347.6 28.4C353.7 29 358.7 32.9 367.6 35.1C376.6 37.3 388.8 39 401.1 41.8C413.3 44.6 432.9 47.9 441.2 51.8C449.4 55.7 449.7 61.4 450.5 65.2C451.4 68.9 454.4 74.4 446.2 74.2C437.9 74 414.2 66.7 401.1 64.2C388 61.6 378.2 60.7 367.6 58.8C357.1 56.9 344.8 53.6 337.6 52.8C330.3 52 327.8 54.5 324.2 54.1C320.6 53.8 317.5 52.6 315.8 50.8C314.2 49 311.7 46.6 314.2 43.4Z" fill="#505ba9" />
<path d="M218.9 105.3C220 104.2 224.8 101.9 227.3 101.9C229.8 101.9 232.6 103.9 234 105.3C235.3 106.7 236.2 109.2 235.6 110.3C235.1 111.4 233.1 112.2 230.6 112C228.1 111.7 222.5 109.7 220.6 108.6C218.6 107.5 217.8 106.4 218.9 105.3Z" fill="#f04e50" />
<path d="M267.4 147.1C268.2 143.4 270.7 143.2 272.4 145.4C274.1 147.6 275.5 155.1 277.4 160.4C279.4 165.7 280.2 173.2 284.1 177.1C288 181 294.1 181.6 300.8 183.8C307.5 186.1 318.1 188.3 324.2 190.5C330.3 192.7 334.2 193.9 337.6 197.2C340.9 200.5 340.9 207.2 344.3 210.6C347.6 213.9 354.3 213.9 357.6 217.2C361 220.6 364.3 226.7 364.3 230.6C364.3 234.5 360.4 238.1 357.6 240.6C354.8 243.1 350.1 246.8 347.6 245.7C345.1 244.5 344.3 237.6 342.6 234C340.9 230.3 341.2 227.8 337.6 223.9C333.9 220 327 214.5 320.9 210.6C314.7 206.7 307.5 203.3 300.8 200.5C294.1 197.7 285.5 197.2 280.7 193.9C276 190.5 274.6 184.9 272.4 180.5C270.2 176 268.2 172.7 267.4 167.1C266.5 161.5 266.5 150.7 267.4 147.1Z" fill="#f04e50" />
<path d="M46.8 120.3C51.8 115.3 64.3 112.8 73.5 110.3C82.7 107.8 97.2 102.5 101.9 105.3C106.7 108.1 105 110 101.9 127C98.9 144 87.7 192.7 83.6 207.2C79.4 221.7 74.1 209.4 76.9 213.9C79.7 218.4 93.6 226.2 100.3 234C107 241.8 111.4 255.1 117 260.7C122.5 266.3 131.5 259 133.7 267.4C135.9 275.7 134.2 301.9 130.3 310.8C126.4 319.7 118.1 319.7 110.3 320.9C102.5 322 91.9 322 83.6 317.5C75.2 313.1 66.8 302.5 60.2 294.1C53.5 285.8 47.9 277.4 43.4 267.4C39 257.4 34 242.9 33.4 234C32.9 225 36.8 218.9 40.1 213.9C43.4 208.9 51.8 211.7 53.5 203.9C55.1 196.1 51.8 177.7 50.1 167.1C48.5 156.5 44 148.2 43.4 140.4C42.9 132.6 41.8 125.3 46.8 120.3Z" fill="#f04e50" />
<path d="M60.2 127C63.5 122.5 70.2 119.2 76.9 117C83.6 114.8 96.4 112 100.3 113.6C104.2 115.3 103.6 120.9 100.3 127C96.9 133.1 83 138.1 80.2 150.4C77.4 162.7 83.6 190.5 83.6 200.5C83.6 210.6 83 209.4 80.2 210.6C77.4 211.7 70.5 213.3 66.8 207.2C63.2 201.1 60.2 184.4 58.5 173.8C56.8 163.2 56.5 151.5 56.8 143.7C57.1 135.9 56.8 131.5 60.2 127Z" fill="#ec1c24" />
<path d="M46.8 220.6C50.7 216.4 61.3 216.1 66.8 215.6C72.4 215 74.6 213.1 80.2 217.2C85.8 221.4 93.6 233.4 100.3 240.6C107 247.9 115.3 256.2 120.3 260.7C125.3 265.2 129 260.7 130.3 267.4C131.7 274.1 131.5 293.3 128.7 300.8C125.9 308.3 120.6 311.4 113.6 312.5C106.7 313.6 94.7 311.1 86.9 307.5C79.1 303.9 73 297.5 66.8 290.8C60.7 284.1 54 275.7 50.1 267.4C46.2 259 44 248.4 43.4 240.6C42.9 232.8 42.9 224.8 46.8 220.6Z" fill="#ec1c24" />
<path d="M76.9 340.9C78 335.6 81.3 337 86.9 335.9C92.5 334.8 106.4 336.7 110.3 334.2C114.2 331.7 107.2 323.6 110.3 320.9C113.4 318.1 124.8 315.3 128.7 317.5C132.6 319.7 132.3 328.1 133.7 334.2C135.1 340.4 135.4 349.8 137 354.3C138.7 358.7 144.3 355.9 143.7 361C143.2 366 138.1 379.9 133.7 384.4C129.2 388.8 125.3 386.9 117 387.7C108.6 388.5 89.7 392.7 83.6 389.4C77.4 386 81.3 375.7 80.2 367.6C79.1 359.6 75.8 346.2 76.9 340.9Z" fill="#ec1c24" />
<path d="M117 386C119.8 383.2 131.5 383 137 387.7C142.6 392.4 143.7 405.5 150.4 414.4C157.1 423.4 168.8 432.3 177.1 441.2C185.5 450.1 193.9 461.8 200.5 467.9C207.2 474 211.1 476.8 217.2 477.9C223.4 479.1 232.6 478.5 237.3 474.6C242 470.7 243.5 461.8 245.7 454.5C247.8 447.3 249.2 440.1 250 431.1C250.8 422.2 247.5 406.1 250.7 401.1C253.8 396.1 266 395.5 269.1 401.1C272.1 406.6 269.6 423.4 269.1 434.5C268.5 445.6 268.2 458.4 265.7 467.9C263.2 477.4 260.4 486 254 491.3C247.6 496.6 236.2 499.1 227.3 499.7C218.4 500.2 208.3 498.8 200.5 494.7C192.7 490.5 187.7 482.4 180.5 474.6C173.2 466.8 164.9 456.2 157.1 447.9C149.3 439.5 139.8 431.7 133.7 424.5C127.6 417.2 123.1 410.8 120.3 404.4C117.5 398 114.2 388.8 117 386Z" fill="#f04e50" />
<path d="M157.1 300.8C158.2 297.7 163.2 290.8 167.1 287.4C171 284.1 177.7 280.7 180.5 280.7C183.3 280.7 184.9 284.6 183.8 287.4C182.7 290.2 177.7 294.4 173.8 297.5C169.9 300.5 163.2 305.3 160.4 305.8C157.6 306.4 156 303.9 157.1 300.8Z" fill="#ec1c24" />
<use href="#landfill"/>
<g filter="url(#jag)"><use href="#landshade"/><use href="#landline"/><use href="#landdark"/></g>
</g>
<rect x="2.5" y="2.5" width="519" height="519" fill="none" stroke="#232323" stroke-width="5"/>
</g>
<g transform="translate(1272 1342)">
<clipPath id="cpi"><rect x="5" y="5" width="514" height="514"/></clipPath>
<g clip-path="url(#cpi)">
<path d="M269.1 6.7C271.8 1.9 278.5 4.2 284.1 5C289.7 5.8 298.6 8.1 302.5 11.7C306.4 15.3 306.1 21.4 307.5 26.7C308.9 32 309.2 40.1 310.8 43.4C312.5 46.8 317.5 44.3 317.5 46.8C317.5 49.3 313.6 56.8 310.8 58.5C308 60.2 305.3 59.9 300.8 56.8C296.3 53.8 289.1 42.9 284.1 40.1C279.1 37.3 275.7 38.4 270.7 40.1C265.7 41.8 259 45.1 254 50.1C249 55.1 244.5 65.7 240.6 70.2C236.7 74.6 232.8 73 230.6 76.9C228.4 80.8 226.7 88.6 227.3 93.6C227.8 98.6 232.8 103.6 234 107C235.1 110.3 236.2 113.1 234 113.6C231.7 114.2 224.5 113.6 220.6 110.3C216.7 107 211.7 99.2 210.6 93.6C209.4 88 210 82.4 213.9 76.9C217.8 71.3 227.8 66.3 234 60.2C240.1 54 245.1 44.6 250.7 40.1C256.2 35.7 264.3 39 267.4 33.4C270.4 27.9 266.3 11.4 269.1 6.7Z" fill="#9896c8" />
<path d="M16.7 107C21.7 100.3 34 91.4 43.4 86.9C52.9 82.4 63.8 81.6 73.5 80.2C83.3 78.8 97.2 73.5 101.9 78.5C106.7 83.6 107.8 103.9 101.9 110.3C96.1 116.7 74.4 114.2 66.8 117C59.3 119.8 59 120.9 56.8 127C54.6 133.1 53.5 144.8 53.5 153.7C53.5 162.7 55.7 171.6 56.8 180.5C57.9 189.4 61.8 201.1 60.2 207.2C58.5 213.3 50.1 212.8 46.8 217.2C43.4 221.7 40.1 226.2 40.1 234C40.1 241.8 44 255.1 46.8 264C49.6 273 52.4 280.7 56.8 287.4C61.3 294.1 64.1 299.4 73.5 304.1C83 308.9 107.5 311.9 113.6 315.8C119.8 319.7 114.8 322.2 110.3 327.5C105.8 332.8 94.1 344.8 86.9 347.6C79.7 350.4 74.1 347.6 66.8 344.3C59.6 340.9 51.2 334.8 43.4 327.5C35.7 320.3 26.2 310.8 20.1 300.8C13.9 290.8 10.6 278.5 6.7 267.4C2.8 256.2 -1.7 244 -3.3 234C-5 223.9 -5.6 215 -3.3 207.2C-1.1 199.4 7.8 196.6 10 187.2C12.3 177.7 9.5 160.4 10 150.4C10.6 140.4 12.3 134.2 13.4 127C14.5 119.8 11.7 113.6 16.7 107Z" fill="#ee9999" />
<path d="M250.7 384.4C253.5 380.5 264 389.4 267.4 381C270.7 372.7 267.9 345.9 270.7 334.2C273.5 322.5 281.3 322 284.1 310.8C286.9 299.7 284.6 275.2 287.4 267.4C290.2 259.6 296.9 261.3 300.8 264C304.7 266.8 307.5 279.1 310.8 284.1C314.2 289.1 317 294.1 320.9 294.1C324.8 294.1 327.5 288.5 334.2 284.1C340.9 279.6 359.3 274.6 361 267.4C362.6 260.1 343.1 247.3 344.3 240.6C345.4 234 359.8 230.1 367.6 227.3C375.4 224.5 384.4 222.8 391 223.9C397.7 225 401.6 228.9 407.8 234C413.9 239 420 248.4 427.8 254C435.6 259.6 446.7 261.3 454.5 267.4C462.3 273.5 469.6 281.9 474.6 290.8C479.6 299.7 483 310.3 484.6 320.9C486.3 331.4 486.3 343.7 484.6 354.3C483 364.9 480.2 373.8 474.6 384.4C469 394.9 460.7 408.9 451.2 417.8C441.7 426.7 428.4 433.9 417.8 437.8C407.2 441.7 399.4 442.8 387.7 441.2C376 439.5 358.7 430.9 347.6 427.8C336.5 424.7 330.9 425.6 320.9 422.8C310.8 420 296.3 414.2 287.4 411.1C278.5 408 273.5 405.5 267.4 404.4C261.3 403.3 253.5 407.8 250.7 404.4C247.9 401.1 247.9 388.3 250.7 384.4Z" fill="#3953a4" />
<path d="M305.8 307.5C308.3 311.9 319.2 324.2 320.9 334.2C322.5 344.3 313.1 357.9 315.8 367.6C318.6 377.4 328.9 388.8 337.6 392.7C346.2 396.6 359.8 388.8 367.6 391C375.4 393.3 376 405 384.4 406.1C392.7 407.2 408.3 404.1 417.8 397.7C427.3 391.3 436.2 378.2 441.2 367.6C446.2 357.1 447.9 345.4 447.9 334.2C447.9 323.1 446.2 308.9 441.2 300.8C436.2 292.7 424.5 289.7 417.8 285.8C411.1 281.9 406.6 280.2 401.1 277.4C395.5 274.6 387.1 270.4 384.4 269.1" fill="none" stroke="#505ba9" stroke-width="8.7" stroke-linejoin="round" stroke-linecap="round" />
<use href="#landfill"/>
<g filter="url(#jag)"><use href="#landshade"/><use href="#landline"/><use href="#landdark"/></g>
</g>
<rect x="2.5" y="2.5" width="519" height="519" fill="none" stroke="#232323" stroke-width="5"/>
</g>
<g transform="translate(20 1959)">
<clipPath id="cpj"><rect x="5" y="5" width="514" height="514"/></clipPath>
<g clip-path="url(#cpj)">
<path d="M13.4 113.6C17.3 104.2 24.5 98.9 33.4 93.6C42.3 88.3 55.4 84.4 66.8 81.9C78.3 79.4 96.1 72.1 101.9 78.5C107.8 84.9 104.4 112.2 101.9 120.3C99.4 128.4 92.7 124.8 86.9 127C81 129.2 70.7 129.2 66.8 133.7C62.9 138.1 62.9 147.1 63.5 153.7C64.1 160.4 68.2 163.8 70.2 173.8C72.1 183.8 77.4 206.1 75.2 213.9C73 221.7 60.4 216.1 56.8 220.6C53.2 225 52.9 230.6 53.5 240.6C54 250.7 55.7 270.7 60.2 280.7C64.6 290.8 73.5 296.3 80.2 300.8C86.9 305.3 92.2 306.1 100.3 307.5C108.3 308.9 126.4 305.8 128.7 309.2C130.9 312.5 119.5 321.7 113.6 327.5C107.8 333.4 101.4 340.9 93.6 344.3C85.8 347.6 75.2 349.8 66.8 347.6C58.5 345.4 51.2 337.6 43.4 330.9C35.7 324.2 26.2 316.4 20.1 307.5C13.9 298.6 10.6 286.9 6.7 277.4C2.8 267.9 -1.7 262.4 -3.3 250.7C-5 239 -5.6 217.8 -3.3 207.2C-1.1 196.6 7.8 196.6 10 187.2C12.3 177.7 9.5 162.7 10 150.4C10.6 138.1 9.5 123.1 13.4 113.6Z" fill="#ee9999" />
<path d="M90.2 340.9C90.2 339.2 96.4 337 100.3 334.2C104.2 331.4 110.9 323.1 113.6 324.2C116.4 325.3 119.2 337.6 117 340.9C114.8 344.3 104.7 344.3 100.3 344.3C95.8 344.3 90.2 342.6 90.2 340.9Z" fill="#ec1c24" />
<path d="M75.2 347.6C77.7 343.7 86.9 345.4 93.6 344.3C100.3 343.1 111.1 339.2 115.3 340.9C119.5 342.6 117 349.8 118.6 354.3C120.3 358.7 124.8 362.4 125.3 367.6C125.9 372.9 125.1 382.7 122 386C118.9 389.4 113.6 387.1 107 387.7C100.3 388.3 86.6 392.7 81.9 389.4C77.2 386 79.7 374.6 78.5 367.6C77.4 360.7 72.7 351.5 75.2 347.6Z" fill="#f04e50" />
<path d="M330.9 193.9C332 191.6 337.6 189.4 340.9 190.5C344.3 191.6 346.5 197.2 350.9 200.5C355.4 203.9 361.5 206.7 367.6 210.6C373.8 214.5 384.9 220.6 387.7 223.9C390.5 227.3 388.8 228.4 384.4 230.6C379.9 232.8 366 237.9 361 237.3C355.9 236.7 355.9 231.2 354.3 227.3C352.6 223.4 354.3 217.8 350.9 213.9C347.6 210 337.6 207.2 334.2 203.9C330.9 200.5 329.8 196.1 330.9 193.9Z" fill="#ec1c24" />
<use href="#landfill"/>
<g filter="url(#jag)"><use href="#landshade"/><use href="#landline"/><use href="#landdark"/></g>
</g>
<rect x="2.5" y="2.5" width="519" height="519" fill="none" stroke="#232323" stroke-width="5"/>
</g>
<g transform="translate(645.5 1959)">
<clipPath id="cpk"><rect x="5" y="5" width="514" height="514"/></clipPath>
<g clip-path="url(#cpk)">
<path d="M95.3 117C101.7 112.5 123.4 113.6 133.7 113.6C144 113.6 149.8 117.5 157.1 117C164.3 116.4 171 113.6 177.1 110.3C183.3 107 187.7 99.2 193.9 96.9C200 94.7 209.4 95.3 213.9 96.9C218.4 98.6 220.6 103.1 220.6 107C220.6 110.9 216.7 117 213.9 120.3C211.1 123.7 206.1 123.1 203.9 127C201.6 130.9 201.1 135.9 200.5 143.7C200 151.5 198.9 165.4 200.5 173.8C202.2 182.2 208.3 184.4 210.6 193.9C212.8 203.3 215 223.9 213.9 230.6C212.8 237.3 207.8 236.7 203.9 234C200 231.2 194.4 221.7 190.5 213.9C186.6 206.1 183.3 196.6 180.5 187.2C177.7 177.7 176.6 164.9 173.8 157.1C171 149.3 166.6 140.9 163.8 140.4C161 139.8 158.8 145.9 157.1 153.7C155.4 161.5 156.5 181 153.7 187.2C151 193.3 143.7 193.3 140.4 190.5C137 187.7 137 174.9 133.7 170.5C130.3 166 124.2 164.3 120.3 163.8C116.4 163.2 113.6 168.2 110.3 167.1C107 166 102.8 161.5 100.3 157.1C97.8 152.6 96.1 147.1 95.3 140.4C94.4 133.7 88.8 121.4 95.3 117Z" fill="#3953a4" />
<path d="M274.7 147.1C276.7 150.2 281.3 160.7 286.8 166.1C292.2 171.6 296.8 176.4 307.5 179.8C318.2 183.2 338.1 185.1 350.9 186.5C363.7 187.9 374.4 189.6 384.4 188.2C394.3 186.7 402.5 183 410.4 177.8C418.3 172.6 425.7 165 431.8 157.1C437.9 149.2 443.4 139.8 447.2 130.3C451 120.9 452.1 109.2 454.5 100.3C457 91.4 460.7 80.8 461.9 76.9" fill="none" stroke="#9896c8" stroke-width="16.7" stroke-linejoin="round" stroke-linecap="round" />
<circle cx="462.9" cy="75.2" r="17.4" fill="#9896c8"/>
<path d="M110.3 337.6C112.2 334.5 122 333.1 125.3 335.9C128.7 338.7 127.3 350.1 130.3 354.3C133.4 358.5 143.2 358.2 143.7 361C144.3 363.7 135.1 367.1 133.7 371C132.3 374.9 137.6 381.6 135.4 384.4C133.1 387.1 123.4 390.5 120.3 387.7C117.3 384.9 118.1 373.2 117 367.6C115.9 362.1 114.8 359.3 113.6 354.3C112.5 349.3 108.3 340.6 110.3 337.6Z" fill="#ee9999" />
<path d="M299.1 300.8C301.4 298 305.5 297.5 307.5 300.8C309.4 304.1 310.3 314.7 310.8 320.9C311.4 327 311.9 330.9 310.8 337.6C309.7 344.3 305.5 353.2 304.1 361C302.8 368.8 302.5 375.4 302.5 384.4C302.5 393.3 305.5 409.4 304.1 414.4C302.8 419.5 298 415.6 294.1 414.4C290.2 413.3 285.8 409.4 280.7 407.8C275.7 406.1 266.8 406.6 264 404.4C261.3 402.2 260.7 398.3 264 394.4C267.4 390.5 280.2 387.1 284.1 381C288 374.9 287.2 366 287.4 357.6C287.7 349.3 284.6 337.6 285.8 330.9C286.9 324.2 291.9 322.5 294.1 317.5C296.3 312.5 296.9 303.6 299.1 300.8Z" fill="#f04e50" />
<use href="#landfill"/>
<g filter="url(#jag)"><use href="#landshade"/><use href="#landline"/><use href="#landdark"/></g>
</g>
<rect x="2.5" y="2.5" width="519" height="519" fill="none" stroke="#232323" stroke-width="5"/>
</g>
<g transform="translate(1272 1959)">
<clipPath id="cpl"><rect x="5" y="5" width="514" height="514"/></clipPath>
<g clip-path="url(#cpl)">
<path d="M218.9 96.9C220.6 92.5 229.2 83.6 234 80.2C238.7 76.9 244.5 80.8 247.3 76.9C250.1 73 247.3 62.4 250.7 56.8C254 51.2 263.2 45.1 267.4 43.4C271.6 41.8 274.1 42.9 275.7 46.8C277.4 50.7 276.6 59.6 277.4 66.8C278.2 74.1 281.3 84.7 280.7 90.2C280.2 95.8 277.4 94.7 274.1 100.3C270.7 105.8 263.5 117 260.7 123.7C257.9 130.3 259.6 137.6 257.4 140.4C255.1 143.2 250.7 143.7 247.3 140.4C244 137 241.2 125.9 237.3 120.3C233.4 114.8 227 110.9 223.9 107C220.9 103.1 217.2 101.4 218.9 96.9Z" fill="#ee9999" />
<path d="M290.8 264C296.2 259.7 311.4 249.4 320.9 245.7C330.3 241.9 340.4 241.3 347.6 241.3C354.8 241.3 360.1 241.9 364.3 245.7C368.5 249.4 370.4 258.5 372.7 264C374.9 269.6 378.5 273.5 377.7 279.1C376.8 284.6 373.2 293.6 367.6 297.5C362.1 301.4 352.3 300.8 344.3 302.5C336.2 304.1 325.3 307.5 319.2 307.5C313.1 307.5 311.1 305.8 307.5 302.5C303.9 299.1 300.7 292.6 297.5 287.4C294.2 282.3 289.2 275.3 288.1 271.4C287 267.5 285.3 268.3 290.8 264Z" fill="#ec1c24" />
<path d="M284.1 270.7C285.2 267.4 291.3 266.3 294.1 267.4C296.9 268.5 298.6 271.8 300.8 277.4C303 283 306.9 293.6 307.5 300.8C308 308 306.4 316.4 304.1 320.9C301.9 325.3 296.3 325.3 294.1 327.5C291.9 329.8 290.8 328.7 290.8 334.2C290.8 339.8 294.7 352 294.1 361C293.6 369.9 290.8 381.6 287.4 387.7C284.1 393.8 277.4 394.7 274.1 397.7C270.7 400.8 270.7 404.7 267.4 406.1C264 407.5 256.8 408 254 406.1C251.2 404.1 249.6 398.6 250.7 394.4C251.8 390.2 256.8 384.4 260.7 381C264.6 377.7 271.6 382.1 274.1 374.3C276.6 366.5 275.2 343.7 275.7 334.2C276.3 324.8 275.5 322 277.4 317.5C279.4 313.1 285.8 312.5 287.4 307.5C289.1 302.5 288 293.6 287.4 287.4C286.9 281.3 283 274.1 284.1 270.7Z" fill="#9896c8" />
<use href="#landfill"/>
<g filter="url(#jag)"><use href="#landshade"/><use href="#landline"/><use href="#landdark"/></g>
</g>
<rect x="2.5" y="2.5" width="519" height="519" fill="none" stroke="#232323" stroke-width="5"/>
</g>
<text transform="translate(172 47) scale(0.9 1)" font-size="31.5" fill="#000">l</text><text transform="translate(179 47) scale(0.9 1)" font-size="31.5" fill="#000">o</text><text transform="translate(197 47) scale(0.9 1)" font-size="31.5" fill="#000">g</text><text transform="translate(232 47) scale(0.9 1)" font-size="31.5" fill="#000">C</text><text transform="translate(261 47) scale(0.9 1)" font-size="31.5" fill="#000">H</text><text transform="translate(289 47) scale(0.9 1)" font-size="31.5" fill="#000">L</text>
<text transform="translate(309 52.6) scale(0.9 1)" font-size="24.5" fill="#000">t</text><text transform="translate(327 52.6) scale(0.9 1)" font-size="24.5" fill="#000">−</text><text transform="translate(343 52.6) scale(0.9 1)" font-size="24.5" fill="#000">1</text>
<text transform="translate(219.5 45) scale(0.85 1)" font-size="37" fill="#000">(</text><text transform="translate(354.5 45) scale(0.85 1)" font-size="37" fill="#000">)</text>
<text transform="translate(811 50) scale(0.9 1)" font-size="31.5" fill="#000">R</text><text transform="translate(838 50) scale(0.9 1)" font-size="31.5" fill="#000">U</text><text transform="translate(866 50) scale(0.9 1)" font-size="31.5" fill="#000">N</text><text transform="translate(893 50) scale(0.9 1)" font-size="31.5" fill="#000">O</text><text transform="translate(923 50) scale(0.9 1)" font-size="31.5" fill="#000">F</text><text transform="translate(947 50) scale(0.9 1)" font-size="31.5" fill="#000">F</text>
<text transform="translate(969 55.8) scale(0.9 1)" font-size="24.5" fill="#000">t</text>
<text transform="translate(1411 47) scale(0.9 1)" font-size="31.5" fill="#000">R</text><text transform="translate(1439 47) scale(0.9 1)" font-size="31.5" fill="#000">U</text><text transform="translate(1466 47) scale(0.9 1)" font-size="31.5" fill="#000">N</text><text transform="translate(1493 47) scale(0.9 1)" font-size="31.5" fill="#000">O</text><text transform="translate(1524 47) scale(0.9 1)" font-size="31.5" fill="#000">F</text><text transform="translate(1548 47) scale(0.9 1)" font-size="31.5" fill="#000">F</text>
<text transform="translate(1570 52.6) scale(0.9 1)" font-size="24.5" fill="#000">t</text><text transform="translate(1588 52.6) scale(0.9 1)" font-size="24.5" fill="#000">−</text><text transform="translate(1603.5 52.6) scale(0.9 1)" font-size="24.5" fill="#000">1</text>
<text transform="translate(256.7 693.8) scale(0.9 1)" font-size="31.5" fill="#000">S</text><text transform="translate(283 693.8) scale(0.9 1)" font-size="31.5" fill="#000">I</text><text transform="translate(296 693.8) scale(0.9 1)" font-size="31.5" fill="#000">F</text>
<text transform="translate(318 699.8) scale(0.9 1)" font-size="24.5" fill="#000">t</text>
<text transform="translate(840.5 691) scale(0.9 1)" font-size="31.5" fill="#000">S</text><text transform="translate(867 691) scale(0.9 1)" font-size="31.5" fill="#000">I</text><text transform="translate(879 691) scale(0.9 1)" font-size="31.5" fill="#000">F</text>
<text transform="translate(902 697) scale(0.9 1)" font-size="24.5" fill="#000">t</text><text transform="translate(920 697) scale(0.9 1)" font-size="24.5" fill="#000">−</text><text transform="translate(935 697) scale(0.9 1)" font-size="24.5" fill="#000">1</text>
<text transform="translate(1483.7 687.8) scale(0.9 1)" font-size="31.5" fill="#000">S</text><text transform="translate(1510 687.8) scale(0.9 1)" font-size="31.5" fill="#000">I</text><text transform="translate(1523 687.8) scale(0.9 1)" font-size="31.5" fill="#000">F</text>
<text transform="translate(1545.6 693.8) scale(0.9 1)" font-size="24.5" fill="#000">d</text><text transform="translate(1561 693.8) scale(0.9 1)" font-size="24.5" fill="#000">t</text>
<text transform="translate(244.8 1312.9) scale(0.9 1)" font-size="31.5" fill="#000">S</text><text transform="translate(270.8 1312.9) scale(0.9 1)" font-size="31.5" fill="#000">S</text><text transform="translate(295 1312.9) scale(0.9 1)" font-size="31.5" fill="#000">T</text>
<text transform="translate(319 1318.8) scale(0.9 1)" font-size="24.5" fill="#000">t</text>
<text transform="translate(839.6 1310) scale(0.9 1)" font-size="31.5" fill="#000">S</text><text transform="translate(865.7 1310) scale(0.9 1)" font-size="31.5" fill="#000">S</text><text transform="translate(890 1310) scale(0.9 1)" font-size="31.5" fill="#000">T</text>
<text transform="translate(914 1315.7) scale(0.9 1)" font-size="24.5" fill="#000">t</text><text transform="translate(932 1315.7) scale(0.9 1)" font-size="24.5" fill="#000">−</text><text transform="translate(947.7 1315.7) scale(0.9 1)" font-size="24.5" fill="#000">1</text>
<text transform="translate(1476.7 1303.7) scale(0.9 1)" font-size="31.5" fill="#000">S</text><text transform="translate(1502.8 1303.7) scale(0.9 1)" font-size="31.5" fill="#000">S</text><text transform="translate(1527 1303.7) scale(0.9 1)" font-size="31.5" fill="#000">T</text>
<text transform="translate(1551.8 1309.7) scale(0.9 1)" font-size="24.5" fill="#000">d</text><text transform="translate(1568 1309.7) scale(0.9 1)" font-size="24.5" fill="#000">t</text>
<text transform="translate(203 1930.8) scale(0.9 1)" font-size="31.5" fill="#000">l</text><text transform="translate(210 1930.8) scale(0.9 1)" font-size="31.5" fill="#000">o</text><text transform="translate(228 1930.8) scale(0.9 1)" font-size="31.5" fill="#000">g</text><text transform="translate(264 1930.8) scale(0.9 1)" font-size="31.5" fill="#000">M</text><text transform="translate(295 1930.8) scale(0.9 1)" font-size="31.5" fill="#000">L</text><text transform="translate(317 1930.8) scale(0.9 1)" font-size="31.5" fill="#000">D</text>
<text transform="translate(343 1936.8) scale(0.9 1)" font-size="24.5" fill="#000">t</text>
<text transform="translate(250.5 1928.8) scale(0.85 1)" font-size="37" fill="#000">(</text><text transform="translate(361.3 1928.8) scale(0.85 1)" font-size="37" fill="#000">)</text>
<text transform="translate(800 1933.7) scale(0.9 1)" font-size="31.5" fill="#000">l</text><text transform="translate(807 1933.7) scale(0.9 1)" font-size="31.5" fill="#000">o</text><text transform="translate(825 1933.7) scale(0.9 1)" font-size="31.5" fill="#000">g</text><text transform="translate(861 1933.7) scale(0.9 1)" font-size="31.5" fill="#000">M</text><text transform="translate(892 1933.7) scale(0.9 1)" font-size="31.5" fill="#000">L</text><text transform="translate(914 1933.7) scale(0.9 1)" font-size="31.5" fill="#000">D</text>
<text transform="translate(940 1939.6) scale(0.9 1)" font-size="24.5" fill="#000">t</text><text transform="translate(959 1939.6) scale(0.9 1)" font-size="24.5" fill="#000">−</text><text transform="translate(974 1939.6) scale(0.9 1)" font-size="24.5" fill="#000">1</text>
<text transform="translate(847.5 1931.7) scale(0.85 1)" font-size="37" fill="#000">(</text><text transform="translate(985.5 1931.7) scale(0.85 1)" font-size="37" fill="#000">)</text>
<text transform="translate(1441 1927.8) scale(0.9 1)" font-size="31.5" fill="#000">l</text><text transform="translate(1448 1927.8) scale(0.9 1)" font-size="31.5" fill="#000">o</text><text transform="translate(1466 1927.8) scale(0.9 1)" font-size="31.5" fill="#000">g</text><text transform="translate(1502 1927.8) scale(0.9 1)" font-size="31.5" fill="#000">M</text><text transform="translate(1533 1927.8) scale(0.9 1)" font-size="31.5" fill="#000">L</text><text transform="translate(1555 1927.8) scale(0.9 1)" font-size="31.5" fill="#000">D</text>
<text transform="translate(1582 1933.6) scale(0.9 1)" font-size="24.5" fill="#000">d</text><text transform="translate(1597.7 1933.6) scale(0.9 1)" font-size="24.5" fill="#000">t</text>
<text transform="translate(1488.5 1925.8) scale(0.85 1)" font-size="37" fill="#000">(</text><text transform="translate(1616.5 1925.8) scale(0.85 1)" font-size="37" fill="#000">)</text>
<text x="39.2" y="148.9" font-size="39" font-weight="bold" fill="#231f20">(a)</text>
<text x="668.4" y="148.9" font-size="39" font-weight="bold" fill="#231f20">(b)</text>
<text x="1302.4" y="148.9" font-size="39" font-weight="bold" fill="#231f20">(c)</text>
<text x="39.7" y="771.9" font-size="39" font-weight="bold" fill="#231f20">(d)</text>
<text x="668.4" y="771.9" font-size="39" font-weight="bold" fill="#231f20">(e)</text>
<text x="1302.4" y="771.9" font-size="39" font-weight="bold" fill="#231f20">(f)</text>
<text x="39.9" y="1387.9" font-size="39" font-weight="bold" fill="#231f20">(g)</text>
<text x="668.4" y="1387.9" font-size="39" font-weight="bold" fill="#231f20">(h)</text>
<text x="1302.4" y="1387.9" font-size="39" font-weight="bold" fill="#231f20">(i)</text>
<text x="41.6" y="2005.9" font-size="39" font-weight="bold" fill="#231f20">(j)</text>
<text x="668.4" y="2005.9" font-size="39" font-weight="bold" fill="#231f20">(k)</text>
<text x="1302.4" y="2005.9" font-size="39" font-weight="bold" fill="#231f20">(l)</text>
<rect x="221" y="2564" width="186.1" height="88" fill="#3953a4"/>
<rect x="406.6" y="2564" width="186.1" height="88" fill="#505ba9"/>
<rect x="592.1" y="2564" width="186.1" height="88" fill="#9896c8"/>
<rect x="777.7" y="2564" width="186.1" height="88" fill="#e6e8e7"/>
<rect x="963.3" y="2564" width="186.1" height="88" fill="#ee9999"/>
<rect x="1148.9" y="2564" width="186.1" height="88" fill="#f04e50"/>
<rect x="1334.4" y="2564" width="186.1" height="88" fill="#ec1c24"/>
<rect x="222.2" y="2565.2" width="1296.6" height="85.6" fill="none" stroke="#404040" stroke-width="2.5"/>
<rect x="437.5" y="2636" width="2.5" height="15" fill="#404040"/>
<rect x="653.8" y="2636" width="2.5" height="15" fill="#404040"/>
<rect x="869.5" y="2636" width="2.5" height="15" fill="#404040"/>
<rect x="1086.1" y="2636" width="2.5" height="15" fill="#404040"/>
<rect x="1301.4" y="2636" width="2.5" height="15" fill="#404040"/>
<text x="220.3" y="2705.8" font-size="32" fill="#3a3a3a" text-anchor="middle">-3</text>
<text x="435.9" y="2705.8" font-size="32" fill="#3a3a3a" text-anchor="middle">-2</text>
<text x="650.6" y="2705.8" font-size="32" fill="#3a3a3a" text-anchor="middle">-1</text>
<text x="869.9" y="2705.8" font-size="32" fill="#3a3a3a" text-anchor="middle">0</text>
<text x="1084.7" y="2705.8" font-size="32" fill="#3a3a3a" text-anchor="middle">1</text>
<text x="1301.3" y="2705.8" font-size="32" fill="#3a3a3a" text-anchor="middle">2</text>
<text x="1517.9" y="2705.8" font-size="32" fill="#3a3a3a" text-anchor="middle">3</text>
<path d="M246 2648 Q860 2612 1488 2568" fill="none" stroke="#fff" stroke-opacity="0.35" stroke-width="1.3" stroke-dasharray="9 7"/>
</svg></body></html>
